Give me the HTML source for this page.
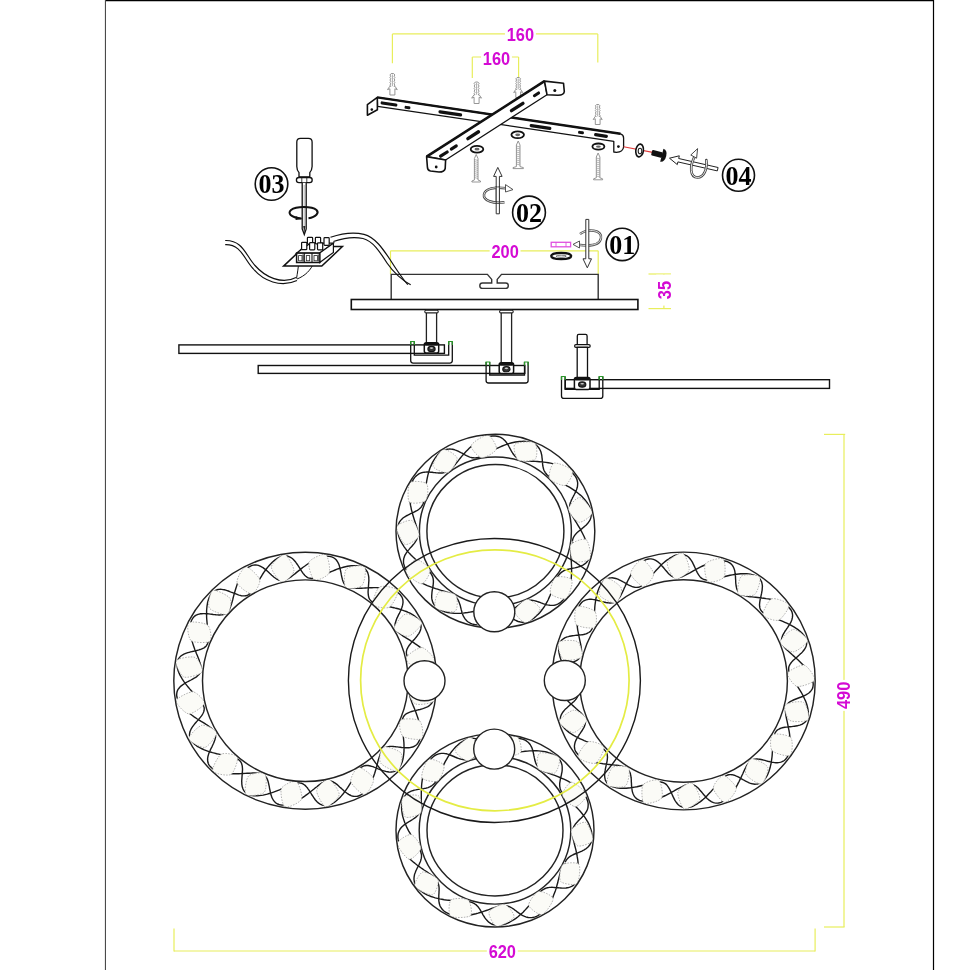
<!DOCTYPE html>
<html><head><meta charset="utf-8"><style>
html,body{margin:0;padding:0;background:#fff;}
svg{display:block;} text{-webkit-font-smoothing:antialiased;}
</style></head><body>
<svg style="will-change:transform" width="970" height="970" viewBox="0 0 970 970">
<rect x="105" y="0" width="829" height="1.25" fill="#000"/>
<rect x="104.9" y="0" width="1.1" height="970" fill="#4a4a4a"/>
<rect x="932.9" y="0" width="1.2" height="970" fill="#000"/>
<line x1="392.4" y1="33.9" x2="597.8" y2="33.9" stroke="#e8ee5c" stroke-width="1.2"/>
<line x1="392.4" y1="33.9" x2="392.4" y2="63.3" stroke="#e8ee5c" stroke-width="1.2"/>
<line x1="597.8" y1="33.9" x2="597.8" y2="62.5" stroke="#e8ee5c" stroke-width="1.2"/>
<line x1="472.3" y1="57" x2="518.6" y2="57" stroke="#e8ee5c" stroke-width="1.2"/>
<line x1="472.3" y1="57" x2="472.3" y2="78" stroke="#e8ee5c" stroke-width="1.2"/>
<line x1="518.6" y1="57" x2="518.6" y2="78" stroke="#e8ee5c" stroke-width="1.2"/>
<line x1="390.5" y1="250.8" x2="598.2" y2="250.8" stroke="#e8ee5c" stroke-width="1.2"/>
<line x1="390.5" y1="250.8" x2="390.5" y2="274" stroke="#e8ee5c" stroke-width="1.2"/>
<line x1="598.2" y1="250.8" x2="598.2" y2="274" stroke="#e8ee5c" stroke-width="1.2"/>
<line x1="663.9" y1="274" x2="663.9" y2="308.6" stroke="#e8ee5c" stroke-width="1.2"/>
<line x1="648.5" y1="274" x2="671" y2="274" stroke="#e8ee5c" stroke-width="1.2"/>
<line x1="648.5" y1="308.6" x2="671" y2="308.6" stroke="#e8ee5c" stroke-width="1.2"/>
<line x1="844" y1="434.4" x2="844" y2="927" stroke="#e8ee5c" stroke-width="1.2"/>
<line x1="824" y1="434.4" x2="845.2" y2="434.4" stroke="#e8ee5c" stroke-width="1.2"/>
<line x1="824" y1="927" x2="844.6" y2="927" stroke="#e8ee5c" stroke-width="1.2"/>
<line x1="174" y1="951" x2="815.1" y2="951" stroke="#e8ee5c" stroke-width="1.2"/>
<line x1="174" y1="928.5" x2="174" y2="951.5" stroke="#e8ee5c" stroke-width="1.2"/>
<line x1="815.1" y1="928.5" x2="815.1" y2="951.5" stroke="#e8ee5c" stroke-width="1.2"/>
<g transform="translate(520.4,34.7) scale(0.91,1)"><rect x="-17" y="-8" width="34" height="16" fill="#fff"/><text x="0" y="6.45" text-anchor="middle" font-family="Liberation Sans, sans-serif" font-weight="bold" font-size="18" fill="#d40ad4">160</text></g>
<g transform="translate(496.5,58.6) scale(0.91,1)"><rect x="-17" y="-8" width="34" height="16" fill="#fff"/><text x="0" y="6.45" text-anchor="middle" font-family="Liberation Sans, sans-serif" font-weight="bold" font-size="18" fill="#d40ad4">160</text></g>
<g transform="translate(505.1,251.3) scale(0.91,1)"><rect x="-17" y="-8" width="34" height="16" fill="#fff"/><text x="0" y="6.45" text-anchor="middle" font-family="Liberation Sans, sans-serif" font-weight="bold" font-size="18" fill="#d40ad4">200</text></g>
<g transform="translate(664.2,290.1) rotate(-90) scale(0.91,1)"><rect x="-17" y="-8" width="34" height="16" fill="#fff"/><text x="0" y="6.45" text-anchor="middle" font-family="Liberation Sans, sans-serif" font-weight="bold" font-size="18" fill="#d40ad4">35</text></g>
<g transform="translate(843.9,695.4) rotate(-90) scale(0.91,1)"><rect x="-17" y="-8" width="34" height="16" fill="#fff"/><text x="0" y="6.45" text-anchor="middle" font-family="Liberation Sans, sans-serif" font-weight="bold" font-size="18" fill="#d40ad4">490</text></g>
<g transform="translate(502.3,951.4) scale(0.91,1)"><rect x="-17" y="-8" width="34" height="16" fill="#fff"/><text x="0" y="6.45" text-anchor="middle" font-family="Liberation Sans, sans-serif" font-weight="bold" font-size="18" fill="#d40ad4">620</text></g>
<path d="M433.5,698.8 L433.2,700.0 L432.8,701.2 L432.3,702.3 L431.6,703.3 L430.8,704.3 L430.0,705.1 L429.0,705.9 L427.9,706.6 L426.7,707.2 L425.5,707.7 L424.2,708.2 L422.8,708.7 L421.4,709.1 L420.0,709.5 L418.6,709.8 L417.2,710.1 L415.8,710.5 L414.4,710.8 L413.0,711.1 L411.7,711.5 L410.5,711.9 L409.3,712.3 L408.2,712.8 L407.1,713.3 L406.2,713.8 L405.4,714.5 L404.6,715.2 L404.0,716.0 L403.4,716.9 L403.0,717.8 L402.6,718.9 L402.4,720.0 L402.2,721.2 L402.1,722.6 L402.1,724.0 L402.2,725.5 L402.3,727.1 L402.4,728.8 L402.6,730.6 L402.8,732.4 L403.1,734.3 L403.3,736.3 L403.5,738.4 L403.7,740.5 L403.9,742.6 L404.0,744.7 L404.0,746.9 L404.0,749.0 L404.0,751.1 L403.8,753.2 L403.6,755.2 L403.3,757.1 L403.0,759.0 L402.5,760.8 L402.0,762.4 L401.3,764.0 L400.7,765.4 L399.9,766.7 L399.0,767.9 L398.1,768.9 L397.1,769.8 L396.1,770.5 L395.0,771.1 L393.9,771.6 L392.7,771.9 L391.5,772.0 L390.2,772.1 L388.9,772.0 L387.6,771.8 L386.3,771.6 L384.9,771.2 L383.5,770.8 L382.2,770.4 L380.8,769.8 L379.5,769.3 L378.1,768.8 L376.8,768.2 L375.4,767.7 L374.1,767.2 L372.9,766.7 L371.6,766.3 L370.4,766.0 L369.2,765.7 L368.1,765.5 L367.0,765.5 L365.9,765.5 L364.9,765.7 L363.9,765.9 L362.9,766.3 L362.0,766.8 L361.1,767.5 L360.2,768.2 L359.3,769.1 L358.5,770.2 L357.6,771.3 L356.7,772.6 L355.8,773.9 L355.0,775.4 L354.0,776.9 L353.1,778.6 L352.1,780.2 L351.1,782.0 L350.0,783.8 L348.9,785.6 L347.8,787.4 L346.6,789.2 L345.4,790.9 L344.1,792.6 L342.8,794.3 L341.4,795.9 L340.0,797.4 L338.6,798.8 L337.2,800.1 L335.8,801.3 L334.3,802.3 L332.9,803.2 L331.5,804.0 L330.1,804.6 L328.7,805.1 L327.3,805.4 L326.0,805.5 L324.7,805.5 L323.5,805.4 L322.3,805.1 L321.2,804.6 L320.1,804.1 L319.0,803.4 L318.0,802.6 L317.0,801.7 L316.1,800.7 L315.2,799.7 L314.4,798.5 L313.6,797.4 L312.8,796.2 L312.0,795.0 L311.2,793.7 L310.5,792.5 L309.7,791.3 L309.0,790.2 L308.2,789.1 L307.5,788.0 L306.7,787.1 L305.9,786.2 L305.1,785.4 L304.2,784.7 L303.3,784.1 L302.4,783.6 L301.4,783.3 L300.4,783.1 L299.4,782.9 L298.2,782.9 L297.0,783.0 L295.8,783.3 L294.5,783.6 L293.1,784.0 L291.6,784.5 L290.1,785.1 L288.5,785.8 L286.8,786.5 L285.1,787.3 L283.3,788.1 L281.4,788.9 L279.5,789.8 L277.5,790.6 L275.5,791.4 L273.5,792.2 L271.4,792.9 L269.3,793.5 L267.3,794.1 L265.2,794.6 L263.2,795.1 L261.2,795.4 L259.3,795.6 L257.4,795.8 L255.6,795.8 L253.9,795.7 L252.3,795.5 L250.8,795.2 L249.4,794.7 L248.1,794.2 L247.0,793.6 L245.9,792.8 L245.0,792.0 L244.2,791.1 L243.6,790.1 L243.0,789.0 L242.6,787.8 L242.2,786.6 L242.0,785.3 L241.8,784.0 L241.8,782.6 L241.7,781.3 L241.8,779.8 L241.9,778.4 L242.0,777.0 L242.1,775.6 L242.2,774.1 L242.3,772.8 L242.4,771.4 L242.5,770.1 L242.5,768.8 L242.4,767.6 L242.3,766.4 L242.1,765.3 L241.8,764.2 L241.5,763.2 L241.0,762.3 L240.5,761.5 L239.8,760.7 L239.0,760.0 L238.1,759.3 L237.0,758.8 L235.9,758.2 L234.6,757.7 L233.3,757.3 L231.8,756.9 L230.2,756.5 L228.5,756.1 L226.7,755.7 L224.8,755.3 L222.9,755.0 L220.9,754.6 L218.8,754.1 L216.7,753.7 L214.6,753.1 L212.5,752.6 L210.4,752.0 L208.3,751.3 L206.3,750.6 L204.3,749.9 L202.4,749.0 L200.6,748.2 L198.9,747.2 L197.3,746.3 L195.9,745.3 L194.5,744.2 L193.4,743.1 L192.3,742.0 L191.5,740.9 L190.7,739.7 L190.2,738.5 L189.8,737.3 L189.6,736.1 L189.5,734.9 L189.6,733.7 L189.8,732.5 L190.1,731.3 L190.6,730.2 L191.1,729.0 L191.8,727.8 L192.6,726.7 L193.4,725.6 L194.3,724.4 L195.2,723.3 L196.1,722.2 L197.1,721.1 L198.0,720.1 L199.0,719.0 L199.9,717.9 L200.7,716.9 L201.5,715.9 L202.2,714.9 L202.8,713.8 L203.3,712.8 L203.7,711.8 L204.0,710.8 L204.2,709.8 L204.2,708.8 L204.2,707.8 L203.9,706.8 L203.6,705.7 L203.1,704.7 L202.5,703.6 L201.8,702.4 L200.9,701.3 L200.0,700.1 L198.9,698.9 L197.8,697.6 L196.6,696.2 L195.3,694.9 L193.9,693.4 L192.6,692.0 L191.1,690.4 L189.7,688.9 L188.3,687.2 L187.0,685.6 L185.6,683.9 L184.3,682.2 L183.1,680.4 L182.0,678.7 L181.0,676.9 L180.0,675.2 L179.2,673.4 L178.5,671.7 L177.9,670.1 L177.5,668.5 L177.2,666.9 L177.0,665.4 L177.0,664.0 L177.1,662.6 L177.4,661.4 L177.8,660.2 L178.3,659.1 L179.0,658.1 L179.8,657.1 L180.6,656.3 L181.6,655.5 L182.7,654.8 L183.9,654.2 L185.1,653.7 L186.4,653.2 L187.8,652.7 L189.2,652.3 L190.6,651.9 L192.0,651.6 L193.4,651.3 L194.8,650.9 L196.2,650.6 L197.6,650.3 L198.9,649.9 L200.1,649.5 L201.3,649.1 L202.4,648.6 L203.5,648.1 L204.4,647.6 L205.2,646.9 L206.0,646.2 L206.6,645.4 L207.2,644.5 L207.6,643.6 L208.0,642.5 L208.2,641.4 L208.4,640.2 L208.5,638.8 L208.5,637.4 L208.4,635.9 L208.3,634.3 L208.2,632.6 L208.0,630.8 L207.8,629.0 L207.5,627.1 L207.3,625.1 L207.1,623.0 L206.9,620.9 L206.7,618.8 L206.6,616.7 L206.6,614.5 L206.6,612.4 L206.6,610.3 L206.8,608.2 L207.0,606.2 L207.3,604.3 L207.6,602.4 L208.1,600.6 L208.6,599.0 L209.3,597.4 L209.9,596.0 L210.7,594.7 L211.6,593.5 L212.5,592.5 L213.5,591.6 L214.5,590.9 L215.6,590.3 L216.7,589.8 L217.9,589.5 L219.1,589.4 L220.4,589.3 L221.7,589.4 L223.0,589.6 L224.3,589.8 L225.7,590.2 L227.1,590.6 L228.4,591.0 L229.8,591.6 L231.1,592.1 L232.5,592.6 L233.8,593.2 L235.2,593.7 L236.5,594.2 L237.7,594.7 L239.0,595.1 L240.2,595.4 L241.4,595.7 L242.5,595.9 L243.6,595.9 L244.7,595.9 L245.7,595.7 L246.7,595.5 L247.7,595.1 L248.6,594.6 L249.5,593.9 L250.4,593.2 L251.3,592.3 L252.1,591.2 L253.0,590.1 L253.9,588.8 L254.8,587.5 L255.6,586.0 L256.6,584.5 L257.5,582.8 L258.5,581.2 L259.5,579.4 L260.6,577.6 L261.7,575.8 L262.8,574.0 L264.0,572.2 L265.2,570.5 L266.5,568.8 L267.8,567.1 L269.2,565.5 L270.6,564.0 L272.0,562.6 L273.4,561.3 L274.8,560.1 L276.3,559.1 L277.7,558.2 L279.1,557.4 L280.5,556.8 L281.9,556.3 L283.3,556.0 L284.6,555.9 L285.9,555.9 L287.1,556.0 L288.3,556.3 L289.4,556.8 L290.5,557.3 L291.6,558.0 L292.6,558.8 L293.6,559.7 L294.5,560.7 L295.4,561.7 L296.2,562.9 L297.0,564.0 L297.8,565.2 L298.6,566.4 L299.4,567.7 L300.1,568.9 L300.9,570.1 L301.6,571.2 L302.4,572.3 L303.1,573.4 L303.9,574.3 L304.7,575.2 L305.5,576.0 L306.4,576.7 L307.3,577.3 L308.2,577.8 L309.2,578.1 L310.2,578.3 L311.2,578.5 L312.4,578.5 L313.6,578.4 L314.8,578.1 L316.1,577.8 L317.5,577.4 L319.0,576.9 L320.5,576.3 L322.1,575.6 L323.8,574.9 L325.5,574.1 L327.3,573.3 L329.2,572.5 L331.1,571.6 L333.1,570.8 L335.1,570.0 L337.1,569.2 L339.2,568.5 L341.3,567.9 L343.3,567.3 L345.4,566.8 L347.4,566.3 L349.4,566.0 L351.3,565.8 L353.2,565.6 L355.0,565.6 L356.7,565.7 L358.3,565.9 L359.8,566.2 L361.2,566.7 L362.5,567.2 L363.6,567.8 L364.7,568.6 L365.6,569.4 L366.4,570.3 L367.0,571.3 L367.6,572.4 L368.0,573.6 L368.4,574.8 L368.6,576.1 L368.8,577.4 L368.8,578.8 L368.9,580.1 L368.8,581.6 L368.7,583.0 L368.6,584.4 L368.5,585.8 L368.4,587.3 L368.3,588.6 L368.2,590.0 L368.1,591.3 L368.1,592.6 L368.2,593.8 L368.3,595.0 L368.5,596.1 L368.8,597.2 L369.1,598.2 L369.6,599.1 L370.1,599.9 L370.8,600.7 L371.6,601.4 L372.5,602.1 L373.6,602.6 L374.7,603.2 L376.0,603.7 L377.3,604.1 L378.8,604.5 L380.4,604.9 L382.1,605.3 L383.9,605.7 L385.8,606.1 L387.7,606.4 L389.7,606.8 L391.8,607.3 L393.9,607.7 L396.0,608.3 L398.1,608.8 L400.2,609.4 L402.3,610.1 L404.3,610.8 L406.3,611.5 L408.2,612.4 L410.0,613.2 L411.7,614.2 L413.3,615.1 L414.7,616.1 L416.1,617.2 L417.2,618.3 L418.3,619.4 L419.1,620.5 L419.9,621.7 L420.4,622.9 L420.8,624.1 L421.0,625.3 L421.1,626.5 L421.0,627.7 L420.8,628.9 L420.5,630.1 L420.0,631.2 L419.5,632.4 L418.8,633.6 L418.0,634.7 L417.2,635.8 L416.3,637.0 L415.4,638.1 L414.5,639.2 L413.5,640.3 L412.6,641.3 L411.6,642.4 L410.7,643.5 L409.9,644.5 L409.1,645.5 L408.4,646.5 L407.8,647.6 L407.3,648.6 L406.9,649.6 L406.6,650.6 L406.4,651.6 L406.4,652.6 L406.4,653.6 L406.7,654.6 L407.0,655.7 L407.5,656.7 L408.1,657.8 L408.8,659.0 L409.7,660.1 L410.6,661.3 L411.7,662.5 L412.8,663.8 L414.0,665.2 L415.3,666.5 L416.7,668.0 L418.0,669.4 L419.5,671.0 L420.9,672.5 L422.3,674.2 L423.6,675.8 L425.0,677.5 L426.3,679.2 L427.5,681.0 L428.6,682.7 L429.6,684.5 L430.6,686.2 L431.4,688.0 L432.1,689.7 L432.7,691.3 L433.1,692.9 L433.4,694.5 L433.6,696.0 L433.6,697.4 L433.5,698.8 M411.4,687.1 L410.8,688.0 L410.3,688.9 L409.9,689.8 L409.6,690.8 L409.5,691.9 L409.5,693.0 L409.5,694.1 L409.7,695.4 L410.0,696.7 L410.4,698.1 L410.9,699.5 L411.4,701.1 L412.0,702.7 L412.7,704.4 L413.4,706.1 L414.2,707.9 L414.9,709.8 L415.7,711.7 L416.4,713.7 L417.1,715.7 L417.8,717.8 L418.4,719.8 L418.9,721.9 L419.4,723.9 L419.8,725.9 L420.2,727.9 L420.4,729.9 L420.5,731.8 L420.5,733.6 L420.4,735.3 L420.2,737.0 L419.9,738.5 L419.5,739.9 L419.0,741.2 L418.3,742.4 L417.6,743.5 L416.8,744.4 L415.9,745.3 L414.9,746.0 L413.8,746.5 L412.6,747.0 L411.4,747.3 L410.1,747.6 L408.8,747.7 L407.4,747.8 L406.0,747.8 L404.6,747.7 L403.2,747.6 L401.7,747.5 L400.3,747.3 L398.8,747.1 L397.4,746.9 L396.0,746.8 L394.6,746.6 L393.2,746.5 L391.9,746.4 L390.7,746.4 L389.5,746.5 L388.4,746.6 L387.3,746.9 L386.3,747.2 L385.3,747.6 L384.4,748.2 L383.6,748.8 L382.9,749.6 L382.2,750.4 L381.5,751.4 L380.9,752.5 L380.4,753.8 L379.9,755.1 L379.4,756.6 L378.9,758.1 L378.4,759.8 L377.9,761.5 L377.5,763.4 L377.0,765.3 L376.5,767.2 L375.9,769.2 L375.3,771.2 L374.7,773.2 L374.0,775.3 L373.3,777.3 L372.5,779.3 L371.6,781.2 L370.7,783.1 L369.8,784.9 L368.8,786.6 L367.8,788.2 L366.7,789.6 L365.6,791.0 L364.4,792.2 L363.2,793.3 L362.0,794.2 L360.8,794.9 L359.6,795.5 L358.4,796.0 L357.1,796.3 L355.9,796.4 L354.7,796.4 L353.5,796.3 L352.2,796.0 L351.1,795.6 L349.9,795.0 L348.7,794.4 L347.6,793.7 L346.4,792.8 L345.3,792.0 L344.2,791.1 L343.1,790.1 L342.0,789.1 L341.0,788.1 L339.9,787.2 L338.9,786.2 L337.9,785.3 L336.9,784.4 L335.8,783.6 L334.8,782.9 L333.8,782.3 L332.8,781.7 L331.8,781.3 L330.8,781.0 L329.8,780.8 L328.8,780.7 L327.7,780.8 L326.6,781.0 L325.5,781.3 L324.4,781.7 L323.3,782.3 L322.1,782.9 L320.9,783.7 L319.6,784.6 L318.2,785.6 L316.9,786.7 L315.4,787.8 L314.0,789.0 L312.4,790.3 L310.8,791.5 L309.2,792.8 L307.5,794.1 L305.7,795.4 L304.0,796.7 L302.2,797.9 L300.3,799.0 L298.5,800.1 L296.7,801.1 L294.8,802.0 L293.0,802.8 L291.2,803.5 L289.4,804.1 L287.7,804.5 L286.1,804.9 L284.5,805.0 L282.9,805.1 L281.5,805.0 L280.1,804.8 L278.9,804.5 L277.7,804.0 L276.6,803.4 L275.6,802.7 L274.7,801.8 L273.9,800.9 L273.2,799.9 L272.6,798.8 L272.0,797.6 L271.5,796.3 L271.1,795.0 L270.7,793.7 L270.4,792.3 L270.1,790.9 L269.8,789.5 L269.5,788.1 L269.3,786.7 L269.0,785.3 L268.7,784.0 L268.4,782.7 L268.1,781.5 L267.7,780.3 L267.3,779.3 L266.8,778.2 L266.2,777.3 L265.6,776.5 L264.9,775.7 L264.1,775.1 L263.2,774.5 L262.2,774.1 L261.2,773.7 L260.0,773.4 L258.7,773.2 L257.4,773.1 L255.9,773.0 L254.3,773.0 L252.7,773.0 L250.9,773.1 L249.1,773.2 L247.1,773.3 L245.1,773.4 L243.1,773.5 L241.0,773.6 L238.8,773.7 L236.7,773.8 L234.5,773.8 L232.3,773.7 L230.1,773.6 L228.0,773.4 L225.9,773.1 L223.8,772.8 L221.9,772.4 L220.0,772.0 L218.2,771.4 L216.6,770.8 L215.0,770.1 L213.6,769.3 L212.4,768.5 L211.3,767.6 L210.3,766.6 L209.5,765.6 L208.8,764.6 L208.3,763.5 L207.9,762.3 L207.7,761.2 L207.6,759.9 L207.6,758.7 L207.8,757.4 L208.0,756.2 L208.4,754.9 L208.8,753.6 L209.3,752.3 L209.9,751.0 L210.5,749.6 L211.1,748.3 L211.8,747.1 L212.4,745.8 L213.0,744.5 L213.6,743.3 L214.1,742.1 L214.5,740.9 L214.9,739.7 L215.2,738.6 L215.5,737.5 L215.6,736.4 L215.6,735.4 L215.4,734.4 L215.2,733.4 L214.8,732.4 L214.3,731.5 L213.7,730.6 L212.9,729.7 L212.0,728.8 L211.0,727.9 L209.8,727.0 L208.6,726.1 L207.2,725.1 L205.7,724.2 L204.2,723.2 L202.5,722.2 L200.8,721.2 L199.1,720.1 L197.3,719.0 L195.6,717.8 L193.8,716.6 L192.0,715.3 L190.3,714.0 L188.6,712.7 L187.0,711.3 L185.4,709.9 L184.0,708.4 L182.6,707.0 L181.4,705.5 L180.3,704.1 L179.3,702.6 L178.5,701.2 L177.8,699.8 L177.3,698.4 L176.9,697.0 L176.7,695.7 L176.7,694.4 L176.8,693.1 L177.0,692.0 L177.4,690.8 L177.9,689.7 L178.6,688.7 L179.4,687.7 L180.2,686.8 L181.2,685.9 L182.3,685.1 L183.4,684.3 L184.6,683.5 L185.9,682.7 L187.1,682.0 L188.4,681.3 L189.7,680.7 L191.0,680.0 L192.2,679.3 L193.4,678.6 L194.6,678.0 L195.7,677.3 L196.7,676.6 L197.6,675.8 L198.4,675.1 L199.2,674.3 L199.8,673.4 L200.3,672.5 L200.7,671.6 L201.0,670.6 L201.1,669.5 L201.1,668.4 L201.1,667.3 L200.9,666.0 L200.6,664.7 L200.2,663.3 L199.7,661.9 L199.2,660.3 L198.6,658.7 L197.9,657.0 L197.2,655.3 L196.4,653.5 L195.7,651.6 L194.9,649.7 L194.2,647.7 L193.5,645.7 L192.8,643.6 L192.2,641.6 L191.7,639.5 L191.2,637.5 L190.8,635.5 L190.4,633.5 L190.2,631.5 L190.1,629.6 L190.1,627.8 L190.2,626.1 L190.4,624.4 L190.7,622.9 L191.1,621.5 L191.6,620.2 L192.3,619.0 L193.0,617.9 L193.8,617.0 L194.7,616.1 L195.7,615.4 L196.8,614.9 L198.0,614.4 L199.2,614.1 L200.5,613.8 L201.8,613.7 L203.2,613.6 L204.6,613.6 L206.0,613.7 L207.4,613.8 L208.9,613.9 L210.3,614.1 L211.8,614.3 L213.2,614.5 L214.6,614.6 L216.0,614.8 L217.4,614.9 L218.7,615.0 L219.9,615.0 L221.1,614.9 L222.2,614.8 L223.3,614.5 L224.3,614.2 L225.3,613.8 L226.2,613.2 L227.0,612.6 L227.7,611.8 L228.4,611.0 L229.1,610.0 L229.7,608.9 L230.2,607.6 L230.7,606.3 L231.2,604.8 L231.7,603.3 L232.2,601.6 L232.7,599.9 L233.1,598.0 L233.6,596.1 L234.1,594.2 L234.7,592.2 L235.3,590.2 L235.9,588.2 L236.6,586.1 L237.3,584.1 L238.1,582.1 L239.0,580.2 L239.9,578.3 L240.8,576.5 L241.8,574.8 L242.8,573.2 L243.9,571.8 L245.0,570.4 L246.2,569.2 L247.4,568.1 L248.6,567.2 L249.8,566.5 L251.0,565.9 L252.2,565.4 L253.5,565.1 L254.7,565.0 L255.9,565.0 L257.1,565.1 L258.4,565.4 L259.5,565.8 L260.7,566.4 L261.9,567.0 L263.0,567.7 L264.2,568.6 L265.3,569.4 L266.4,570.3 L267.5,571.3 L268.6,572.3 L269.6,573.3 L270.7,574.2 L271.7,575.2 L272.7,576.1 L273.7,577.0 L274.8,577.8 L275.8,578.5 L276.8,579.1 L277.8,579.7 L278.8,580.1 L279.8,580.4 L280.8,580.6 L281.8,580.7 L282.9,580.6 L284.0,580.4 L285.1,580.1 L286.2,579.7 L287.3,579.1 L288.5,578.5 L289.7,577.7 L291.0,576.8 L292.4,575.8 L293.7,574.7 L295.2,573.6 L296.6,572.4 L298.2,571.1 L299.8,569.9 L301.4,568.6 L303.1,567.3 L304.9,566.0 L306.6,564.7 L308.4,563.5 L310.3,562.4 L312.1,561.3 L313.9,560.3 L315.8,559.4 L317.6,558.6 L319.4,557.9 L321.2,557.3 L322.9,556.9 L324.5,556.5 L326.1,556.4 L327.7,556.3 L329.1,556.4 L330.5,556.6 L331.7,556.9 L332.9,557.4 L334.0,558.0 L335.0,558.7 L335.9,559.6 L336.7,560.5 L337.4,561.5 L338.0,562.6 L338.6,563.8 L339.1,565.1 L339.5,566.4 L339.9,567.7 L340.2,569.1 L340.5,570.5 L340.8,571.9 L341.1,573.3 L341.3,574.7 L341.6,576.1 L341.9,577.4 L342.2,578.7 L342.5,579.9 L342.9,581.1 L343.3,582.1 L343.8,583.2 L344.4,584.1 L345.0,584.9 L345.7,585.7 L346.5,586.3 L347.4,586.9 L348.4,587.3 L349.4,587.7 L350.6,588.0 L351.9,588.2 L353.2,588.3 L354.7,588.4 L356.3,588.4 L357.9,588.4 L359.7,588.3 L361.5,588.2 L363.5,588.1 L365.5,588.0 L367.5,587.9 L369.6,587.8 L371.8,587.7 L373.9,587.6 L376.1,587.6 L378.3,587.7 L380.5,587.8 L382.6,588.0 L384.7,588.3 L386.8,588.6 L388.7,589.0 L390.6,589.4 L392.4,590.0 L394.0,590.6 L395.6,591.3 L397.0,592.1 L398.2,592.9 L399.3,593.8 L400.3,594.8 L401.1,595.8 L401.8,596.8 L402.3,597.9 L402.7,599.1 L402.9,600.2 L403.0,601.5 L403.0,602.7 L402.8,604.0 L402.6,605.2 L402.2,606.5 L401.8,607.8 L401.3,609.1 L400.7,610.4 L400.1,611.8 L399.5,613.1 L398.8,614.3 L398.2,615.6 L397.6,616.9 L397.0,618.1 L396.5,619.3 L396.1,620.5 L395.7,621.7 L395.4,622.8 L395.1,623.9 L395.0,625.0 L395.0,626.0 L395.2,627.0 L395.4,628.0 L395.8,629.0 L396.3,629.9 L396.9,630.8 L397.7,631.7 L398.6,632.6 L399.6,633.5 L400.8,634.4 L402.0,635.3 L403.4,636.3 L404.9,637.2 L406.4,638.2 L408.1,639.2 L409.8,640.2 L411.5,641.3 L413.3,642.4 L415.0,643.6 L416.8,644.8 L418.6,646.1 L420.3,647.4 L422.0,648.7 L423.6,650.1 L425.2,651.5 L426.6,653.0 L428.0,654.4 L429.2,655.9 L430.3,657.3 L431.3,658.8 L432.1,660.2 L432.8,661.6 L433.3,663.0 L433.7,664.4 L433.9,665.7 L433.9,667.0 L433.8,668.3 L433.6,669.4 L433.2,670.6 L432.7,671.7 L432.0,672.7 L431.2,673.7 L430.4,674.6 L429.4,675.5 L428.3,676.3 L427.2,677.1 L426.0,677.9 L424.7,678.7 L423.5,679.4 L422.2,680.1 L420.9,680.7 L419.6,681.4 L418.4,682.1 L417.2,682.8 L416.0,683.4 L414.9,684.1 L413.9,684.8 L413.0,685.6 L412.2,686.3 L411.4,687.1" fill="none" stroke="#1a1a1a" stroke-width="1.4"/>
<g fill="#fbfbf7" stroke="#a0a0a0" stroke-width="0.8" stroke-dasharray="1.5 1.3"><path d="M408.4,689.5 C407.0,692.1 412.2,702.6 415.6,704.0 C419.0,705.5 433.0,703.2 434.5,700.6 C435.9,698.1 430.1,685.8 426.7,684.4 C423.3,682.9 409.9,687.0 408.4,689.5Z"/><path d="M400.6,720.2 C398.4,722.2 400.1,733.8 402.8,736.2 C405.6,738.6 419.7,740.6 421.9,738.6 C424.0,736.7 422.4,723.2 419.6,720.8 C416.8,718.4 402.8,718.2 400.6,720.2Z"/><path d="M383.4,747.1 C380.7,748.3 378.6,759.8 380.5,762.9 C382.4,766.0 395.1,772.2 397.8,771.0 C400.5,769.8 403.2,756.5 401.3,753.4 C399.4,750.3 386.1,745.8 383.4,747.1Z"/><path d="M358.6,767.4 C355.6,767.8 350.0,778.1 350.8,781.6 C351.6,785.1 361.8,794.9 364.7,794.5 C367.7,794.2 374.4,782.3 373.6,778.8 C372.8,775.3 361.6,767.0 358.6,767.4Z"/><path d="M328.6,779.2 C325.6,778.7 317.0,786.8 316.7,790.4 C316.3,794.0 322.9,806.3 325.8,806.9 C328.8,807.4 338.9,798.2 339.2,794.6 C339.6,791.0 331.5,779.8 328.6,779.2Z"/><path d="M296.3,781.5 C293.6,780.0 282.9,785.1 281.4,788.5 C280.0,791.8 282.3,805.5 284.9,806.9 C287.5,808.3 300.1,802.6 301.5,799.3 C303.0,796.0 298.9,782.9 296.3,781.5Z"/><path d="M264.8,773.8 C262.8,771.7 251.0,773.3 248.5,776.0 C246.1,778.7 243.9,792.4 246.0,794.6 C248.0,796.7 261.8,795.1 264.2,792.4 C266.7,789.7 266.9,775.9 264.8,773.8Z"/><path d="M237.4,757.0 C236.1,754.4 224.3,752.3 221.2,754.2 C218.0,756.0 211.6,768.5 212.9,771.1 C214.1,773.7 227.7,776.3 230.9,774.5 C234.1,772.7 238.6,759.7 237.4,757.0Z"/><path d="M216.6,732.8 C216.2,729.9 205.7,724.4 202.0,725.2 C198.4,726.0 188.4,735.9 188.8,738.8 C189.2,741.7 201.3,748.2 204.9,747.4 C208.5,746.7 216.9,735.7 216.6,732.8Z"/><path d="M204.4,703.4 C205.0,700.6 196.7,692.2 193.0,691.8 C189.4,691.5 176.7,697.9 176.1,700.8 C175.6,703.6 185.0,713.5 188.7,713.9 C192.4,714.2 203.9,706.3 204.4,703.4Z"/><path d="M202.2,671.9 C203.6,669.3 198.4,658.8 195.0,657.4 C191.6,655.9 177.6,658.2 176.1,660.8 C174.7,663.3 180.5,675.6 183.9,677.0 C187.3,678.5 200.7,674.4 202.2,671.9Z"/><path d="M210.0,641.2 C212.2,639.2 210.5,627.6 207.8,625.2 C205.0,622.8 190.9,620.8 188.7,622.8 C186.6,624.7 188.2,638.2 191.0,640.6 C193.8,643.0 207.8,643.2 210.0,641.2Z"/><path d="M227.2,614.3 C229.9,613.1 232.0,601.6 230.1,598.5 C228.2,595.4 215.5,589.2 212.8,590.4 C210.1,591.6 207.4,604.9 209.3,608.0 C211.2,611.1 224.5,615.6 227.2,614.3Z"/><path d="M252.0,594.0 C255.0,593.6 260.6,583.3 259.8,579.8 C259.0,576.3 248.8,566.5 245.9,566.9 C242.9,567.2 236.2,579.1 237.0,582.6 C237.8,586.1 249.0,594.4 252.0,594.0Z"/><path d="M282.0,582.2 C285.0,582.7 293.6,574.6 293.9,571.0 C294.3,567.4 287.7,555.1 284.8,554.5 C281.8,554.0 271.7,563.2 271.4,566.8 C271.0,570.4 279.1,581.6 282.0,582.2Z"/><path d="M314.3,579.9 C317.0,581.4 327.7,576.3 329.2,572.9 C330.6,569.6 328.3,555.9 325.7,554.5 C323.1,553.1 310.5,558.8 309.1,562.1 C307.6,565.4 311.7,578.5 314.3,579.9Z"/><path d="M345.8,587.6 C347.8,589.7 359.6,588.1 362.1,585.4 C364.5,582.7 366.7,569.0 364.6,566.8 C362.6,564.7 348.8,566.3 346.4,569.0 C343.9,571.7 343.7,585.5 345.8,587.6Z"/><path d="M373.2,604.4 C374.5,607.0 386.3,609.1 389.4,607.2 C392.6,605.4 399.0,592.9 397.7,590.3 C396.5,587.7 382.9,585.1 379.7,586.9 C376.5,588.7 372.0,601.7 373.2,604.4Z"/><path d="M394.0,628.6 C394.4,631.5 404.9,637.0 408.6,636.2 C412.2,635.4 422.2,625.5 421.8,622.6 C421.4,619.7 409.3,613.2 405.7,614.0 C402.1,614.7 393.7,625.7 394.0,628.6Z"/><path d="M406.2,658.0 C405.6,660.8 413.9,669.2 417.6,669.6 C421.2,669.9 433.9,663.5 434.5,660.6 C435.0,657.8 425.6,647.9 421.9,647.5 C418.2,647.2 406.7,655.1 406.2,658.0Z"/></g>
<ellipse cx="305.3" cy="680.7" rx="131.5" ry="128.5" fill="none" stroke="#232323" stroke-width="1.45" />
<ellipse cx="305.3" cy="680.7" rx="102.8" ry="100.85" fill="none" stroke="#232323" stroke-width="1.45" />
<path d="M807.7,717.6 L807.3,718.9 L806.7,720.0 L806.0,721.0 L805.2,721.9 L804.3,722.7 L803.3,723.4 L802.3,724.1 L801.1,724.6 L799.9,725.1 L798.6,725.4 L797.3,725.8 L795.9,726.0 L794.5,726.2 L793.1,726.4 L791.7,726.6 L790.2,726.7 L788.8,726.8 L787.4,727.0 L786.1,727.1 L784.8,727.3 L783.5,727.5 L782.3,727.8 L781.2,728.1 L780.1,728.5 L779.1,729.0 L778.2,729.5 L777.3,730.1 L776.6,730.8 L775.9,731.6 L775.3,732.5 L774.8,733.5 L774.4,734.5 L774.0,735.7 L773.7,737.0 L773.4,738.4 L773.2,740.0 L773.1,741.6 L772.9,743.2 L772.8,745.0 L772.7,746.9 L772.6,748.8 L772.5,750.8 L772.3,752.8 L772.2,754.9 L772.0,757.0 L771.7,759.1 L771.4,761.2 L771.1,763.3 L770.6,765.3 L770.2,767.3 L769.6,769.3 L769.0,771.2 L768.3,772.9 L767.6,774.6 L766.8,776.2 L765.9,777.6 L765.0,778.9 L764.0,780.1 L763.0,781.1 L761.9,782.0 L760.8,782.7 L759.7,783.3 L758.5,783.7 L757.4,784.0 L756.1,784.1 L754.9,784.2 L753.7,784.0 L752.4,783.8 L751.2,783.5 L749.9,783.1 L748.6,782.6 L747.4,782.0 L746.1,781.3 L744.8,780.7 L743.6,780.0 L742.4,779.3 L741.1,778.6 L739.9,777.9 L738.7,777.2 L737.6,776.6 L736.4,776.1 L735.3,775.6 L734.2,775.2 L733.1,774.9 L732.0,774.7 L730.9,774.6 L729.9,774.6 L728.8,774.7 L727.8,775.0 L726.8,775.4 L725.8,775.9 L724.8,776.5 L723.8,777.3 L722.7,778.1 L721.7,779.1 L720.6,780.2 L719.5,781.4 L718.4,782.7 L717.2,784.1 L716.0,785.5 L714.8,787.0 L713.5,788.6 L712.2,790.1 L710.8,791.7 L709.3,793.3 L707.9,794.8 L706.4,796.4 L704.8,797.9 L703.3,799.3 L701.7,800.6 L700.1,801.9 L698.4,803.0 L696.8,804.1 L695.2,805.0 L693.6,805.8 L692.1,806.5 L690.5,807.0 L689.0,807.4 L687.6,807.6 L686.2,807.7 L684.9,807.7 L683.6,807.5 L682.4,807.2 L681.3,806.7 L680.2,806.2 L679.2,805.5 L678.3,804.7 L677.4,803.8 L676.6,802.8 L675.8,801.7 L675.1,800.6 L674.4,799.4 L673.8,798.1 L673.2,796.9 L672.6,795.6 L672.0,794.3 L671.4,793.0 L670.9,791.8 L670.3,790.6 L669.7,789.4 L669.1,788.3 L668.5,787.3 L667.8,786.3 L667.1,785.4 L666.4,784.6 L665.6,783.9 L664.7,783.3 L663.8,782.9 L662.8,782.5 L661.8,782.2 L660.6,782.0 L659.4,782.0 L658.2,782.0 L656.8,782.1 L655.4,782.3 L653.8,782.6 L652.2,782.9 L650.5,783.3 L648.8,783.8 L646.9,784.2 L645.0,784.7 L643.1,785.2 L641.0,785.7 L639.0,786.2 L636.9,786.7 L634.7,787.1 L632.6,787.5 L630.5,787.8 L628.3,788.0 L626.2,788.2 L624.2,788.3 L622.2,788.3 L620.2,788.2 L618.4,788.1 L616.6,787.8 L614.9,787.4 L613.4,787.0 L611.9,786.4 L610.6,785.8 L609.4,785.1 L608.4,784.3 L607.5,783.4 L606.7,782.5 L606.1,781.5 L605.5,780.4 L605.1,779.2 L604.9,778.0 L604.7,776.8 L604.6,775.5 L604.7,774.2 L604.8,772.9 L604.9,771.5 L605.2,770.2 L605.4,768.8 L605.7,767.4 L606.0,766.1 L606.3,764.7 L606.6,763.4 L606.9,762.1 L607.1,760.8 L607.3,759.5 L607.4,758.3 L607.5,757.2 L607.4,756.1 L607.3,755.0 L607.1,754.0 L606.7,753.0 L606.3,752.1 L605.7,751.2 L605.0,750.4 L604.2,749.6 L603.3,748.9 L602.2,748.2 L601.1,747.5 L599.8,746.8 L598.4,746.2 L596.9,745.5 L595.3,744.9 L593.6,744.2 L591.8,743.5 L590.0,742.8 L588.1,742.1 L586.1,741.4 L584.2,740.6 L582.2,739.7 L580.2,738.8 L578.3,737.9 L576.3,736.9 L574.5,735.9 L572.7,734.8 L570.9,733.7 L569.3,732.6 L567.8,731.4 L566.4,730.2 L565.1,729.0 L564.0,727.7 L563.0,726.5 L562.2,725.2 L561.5,723.9 L561.0,722.7 L560.6,721.4 L560.4,720.2 L560.3,719.0 L560.4,717.8 L560.6,716.6 L561.0,715.5 L561.5,714.4 L562.1,713.3 L562.8,712.2 L563.6,711.2 L564.5,710.1 L565.5,709.1 L566.5,708.2 L567.5,707.2 L568.6,706.3 L569.6,705.3 L570.7,704.4 L571.7,703.5 L572.7,702.6 L573.7,701.7 L574.6,700.8 L575.4,699.9 L576.1,699.0 L576.8,698.0 L577.3,697.1 L577.8,696.1 L578.1,695.2 L578.3,694.2 L578.3,693.1 L578.3,692.1 L578.1,691.0 L577.8,689.9 L577.4,688.7 L576.8,687.4 L576.2,686.2 L575.4,684.8 L574.6,683.4 L573.7,682.0 L572.7,680.5 L571.7,678.9 L570.6,677.3 L569.5,675.6 L568.4,673.9 L567.3,672.1 L566.2,670.3 L565.1,668.5 L564.1,666.6 L563.2,664.7 L562.3,662.8 L561.4,660.9 L560.7,659.0 L560.1,657.2 L559.6,655.3 L559.2,653.6 L558.9,651.8 L558.7,650.2 L558.7,648.6 L558.7,647.1 L559.0,645.7 L559.3,644.4 L559.7,643.1 L560.3,642.0 L561.0,641.0 L561.8,640.1 L562.7,639.3 L563.7,638.6 L564.7,637.9 L565.9,637.4 L567.1,636.9 L568.4,636.6 L569.7,636.2 L571.1,636.0 L572.5,635.8 L573.9,635.6 L575.3,635.4 L576.8,635.3 L578.2,635.2 L579.6,635.0 L580.9,634.9 L582.2,634.7 L583.5,634.5 L584.7,634.2 L585.8,633.9 L586.9,633.5 L587.9,633.0 L588.8,632.5 L589.7,631.9 L590.4,631.2 L591.1,630.4 L591.7,629.5 L592.2,628.5 L592.6,627.5 L593.0,626.3 L593.3,625.0 L593.6,623.6 L593.8,622.0 L593.9,620.4 L594.1,618.8 L594.2,617.0 L594.3,615.1 L594.4,613.2 L594.5,611.2 L594.7,609.2 L594.8,607.1 L595.0,605.0 L595.3,602.9 L595.6,600.8 L595.9,598.7 L596.4,596.7 L596.8,594.7 L597.4,592.7 L598.0,590.8 L598.7,589.1 L599.4,587.4 L600.2,585.8 L601.1,584.4 L602.0,583.1 L603.0,581.9 L604.0,580.9 L605.1,580.0 L606.2,579.3 L607.3,578.7 L608.5,578.3 L609.6,578.0 L610.9,577.9 L612.1,577.8 L613.3,578.0 L614.6,578.2 L615.8,578.5 L617.1,578.9 L618.4,579.4 L619.6,580.0 L620.9,580.7 L622.2,581.3 L623.4,582.0 L624.6,582.7 L625.9,583.4 L627.1,584.1 L628.3,584.8 L629.4,585.4 L630.6,585.9 L631.7,586.4 L632.8,586.8 L633.9,587.1 L635.0,587.3 L636.1,587.4 L637.1,587.4 L638.2,587.3 L639.2,587.0 L640.2,586.6 L641.2,586.1 L642.2,585.5 L643.2,584.7 L644.3,583.9 L645.3,582.9 L646.4,581.8 L647.5,580.6 L648.6,579.3 L649.8,577.9 L651.0,576.5 L652.2,575.0 L653.5,573.4 L654.8,571.9 L656.2,570.3 L657.7,568.7 L659.1,567.2 L660.6,565.6 L662.2,564.1 L663.7,562.7 L665.3,561.4 L666.9,560.1 L668.6,559.0 L670.2,557.9 L671.8,557.0 L673.4,556.2 L674.9,555.5 L676.5,555.0 L678.0,554.6 L679.4,554.4 L680.8,554.3 L682.1,554.3 L683.4,554.5 L684.6,554.8 L685.7,555.3 L686.8,555.8 L687.8,556.5 L688.7,557.3 L689.6,558.2 L690.4,559.2 L691.2,560.3 L691.9,561.4 L692.6,562.6 L693.2,563.9 L693.8,565.1 L694.4,566.4 L695.0,567.7 L695.6,569.0 L696.1,570.2 L696.7,571.4 L697.3,572.6 L697.9,573.7 L698.5,574.7 L699.2,575.7 L699.9,576.6 L700.6,577.4 L701.4,578.1 L702.3,578.7 L703.2,579.1 L704.2,579.5 L705.2,579.8 L706.4,580.0 L707.6,580.0 L708.8,580.0 L710.2,579.9 L711.6,579.7 L713.2,579.4 L714.8,579.1 L716.5,578.7 L718.2,578.2 L720.1,577.8 L722.0,577.3 L723.9,576.8 L726.0,576.3 L728.0,575.8 L730.1,575.3 L732.3,574.9 L734.4,574.5 L736.5,574.2 L738.7,574.0 L740.8,573.8 L742.8,573.7 L744.8,573.7 L746.8,573.8 L748.6,573.9 L750.4,574.2 L752.1,574.6 L753.6,575.0 L755.1,575.6 L756.4,576.2 L757.6,576.9 L758.6,577.7 L759.5,578.6 L760.3,579.5 L760.9,580.5 L761.5,581.6 L761.9,582.8 L762.1,584.0 L762.3,585.2 L762.4,586.5 L762.3,587.8 L762.2,589.1 L762.1,590.5 L761.8,591.8 L761.6,593.2 L761.3,594.6 L761.0,595.9 L760.7,597.3 L760.4,598.6 L760.1,599.9 L759.9,601.2 L759.7,602.5 L759.6,603.7 L759.5,604.8 L759.6,605.9 L759.7,607.0 L759.9,608.0 L760.3,609.0 L760.7,609.9 L761.3,610.8 L762.0,611.6 L762.8,612.4 L763.7,613.1 L764.8,613.8 L765.9,614.5 L767.2,615.2 L768.6,615.8 L770.1,616.5 L771.7,617.1 L773.4,617.8 L775.2,618.5 L777.0,619.2 L778.9,619.9 L780.9,620.6 L782.8,621.4 L784.8,622.3 L786.8,623.2 L788.7,624.1 L790.7,625.1 L792.5,626.1 L794.3,627.2 L796.1,628.3 L797.7,629.4 L799.2,630.6 L800.6,631.8 L801.9,633.0 L803.0,634.3 L804.0,635.5 L804.8,636.8 L805.5,638.1 L806.0,639.3 L806.4,640.6 L806.6,641.8 L806.7,643.0 L806.6,644.2 L806.4,645.4 L806.0,646.5 L805.5,647.6 L804.9,648.7 L804.2,649.8 L803.4,650.8 L802.5,651.9 L801.5,652.9 L800.5,653.8 L799.5,654.8 L798.4,655.7 L797.4,656.7 L796.3,657.6 L795.3,658.5 L794.3,659.4 L793.3,660.3 L792.4,661.2 L791.6,662.1 L790.9,663.0 L790.2,664.0 L789.7,664.9 L789.2,665.9 L788.9,666.8 L788.7,667.8 L788.7,668.9 L788.7,669.9 L788.9,671.0 L789.2,672.1 L789.6,673.3 L790.2,674.6 L790.8,675.8 L791.6,677.2 L792.4,678.6 L793.3,680.0 L794.3,681.5 L795.3,683.1 L796.4,684.7 L797.5,686.4 L798.6,688.1 L799.7,689.9 L800.8,691.7 L801.9,693.5 L802.9,695.4 L803.8,697.3 L804.7,699.2 L805.6,701.1 L806.3,703.0 L806.9,704.8 L807.4,706.7 L807.8,708.4 L808.1,710.2 L808.3,711.8 L808.3,713.4 L808.3,714.9 L808.0,716.3 L807.7,717.6 M788.4,703.1 L787.7,703.8 L787.1,704.6 L786.5,705.5 L786.1,706.5 L785.8,707.5 L785.6,708.6 L785.5,709.8 L785.5,711.1 L785.5,712.4 L785.7,713.8 L785.9,715.4 L786.2,717.0 L786.5,718.6 L786.9,720.4 L787.3,722.2 L787.7,724.1 L788.1,726.1 L788.5,728.1 L788.9,730.2 L789.3,732.2 L789.6,734.3 L789.8,736.4 L790.0,738.5 L790.2,740.6 L790.2,742.7 L790.2,744.7 L790.1,746.6 L789.9,748.5 L789.6,750.3 L789.2,752.0 L788.8,753.6 L788.2,755.0 L787.6,756.4 L786.8,757.6 L786.0,758.7 L785.1,759.7 L784.2,760.5 L783.2,761.2 L782.1,761.7 L780.9,762.1 L779.7,762.4 L778.5,762.6 L777.2,762.7 L775.9,762.7 L774.6,762.6 L773.2,762.4 L771.8,762.2 L770.4,761.9 L769.1,761.5 L767.7,761.2 L766.3,760.8 L764.9,760.4 L763.6,760.1 L762.3,759.8 L761.0,759.5 L759.7,759.3 L758.5,759.1 L757.3,759.0 L756.2,759.0 L755.1,759.1 L754.1,759.3 L753.1,759.6 L752.1,760.0 L751.2,760.5 L750.3,761.2 L749.5,762.0 L748.7,762.9 L747.9,763.9 L747.2,765.0 L746.4,766.2 L745.7,767.6 L744.9,769.1 L744.2,770.6 L743.4,772.3 L742.7,774.0 L741.8,775.7 L741.0,777.6 L740.1,779.4 L739.2,781.3 L738.2,783.2 L737.2,785.1 L736.2,786.9 L735.1,788.7 L733.9,790.5 L732.7,792.2 L731.5,793.8 L730.2,795.3 L729.0,796.7 L727.7,798.0 L726.3,799.1 L725.0,800.1 L723.7,801.0 L722.3,801.7 L721.0,802.3 L719.7,802.7 L718.4,803.0 L717.1,803.1 L715.9,803.1 L714.7,802.9 L713.5,802.6 L712.4,802.2 L711.3,801.6 L710.2,800.9 L709.1,800.2 L708.1,799.3 L707.1,798.4 L706.1,797.4 L705.2,796.3 L704.3,795.3 L703.4,794.2 L702.5,793.1 L701.6,792.0 L700.7,791.0 L699.8,790.0 L699.0,789.0 L698.1,788.1 L697.2,787.3 L696.3,786.5 L695.4,785.9 L694.4,785.3 L693.5,784.9 L692.5,784.5 L691.5,784.3 L690.4,784.2 L689.3,784.3 L688.2,784.4 L687.0,784.7 L685.8,785.0 L684.5,785.5 L683.1,786.1 L681.7,786.8 L680.2,787.5 L678.7,788.4 L677.1,789.2 L675.4,790.2 L673.7,791.2 L671.9,792.1 L670.1,793.1 L668.2,794.1 L666.3,795.1 L664.4,796.0 L662.4,796.9 L660.4,797.8 L658.4,798.5 L656.4,799.2 L654.5,799.8 L652.6,800.3 L650.7,800.7 L648.8,801.0 L647.1,801.2 L645.4,801.2 L643.8,801.2 L642.3,801.0 L640.9,800.7 L639.5,800.3 L638.3,799.7 L637.2,799.1 L636.3,798.4 L635.4,797.5 L634.6,796.6 L634.0,795.6 L633.4,794.5 L632.9,793.3 L632.5,792.1 L632.2,790.8 L632.0,789.5 L631.8,788.2 L631.7,786.8 L631.5,785.4 L631.5,784.0 L631.4,782.6 L631.3,781.2 L631.3,779.9 L631.2,778.5 L631.0,777.2 L630.9,776.0 L630.6,774.8 L630.4,773.7 L630.0,772.6 L629.6,771.7 L629.1,770.8 L628.5,769.9 L627.8,769.2 L627.0,768.5 L626.1,767.9 L625.1,767.3 L624.0,766.9 L622.7,766.5 L621.4,766.1 L620.0,765.8 L618.4,765.5 L616.8,765.3 L615.0,765.1 L613.2,764.9 L611.3,764.7 L609.3,764.5 L607.3,764.3 L605.2,764.0 L603.1,763.8 L600.9,763.4 L598.8,763.1 L596.7,762.7 L594.6,762.2 L592.5,761.7 L590.5,761.1 L588.5,760.5 L586.7,759.8 L584.9,759.0 L583.3,758.2 L581.7,757.3 L580.3,756.4 L579.1,755.4 L578.0,754.4 L577.0,753.3 L576.2,752.3 L575.5,751.1 L575.0,750.0 L574.7,748.8 L574.5,747.7 L574.4,746.5 L574.5,745.3 L574.7,744.1 L575.0,742.8 L575.4,741.6 L575.9,740.4 L576.5,739.2 L577.2,738.0 L577.9,736.8 L578.7,735.6 L579.4,734.4 L580.2,733.3 L581.0,732.1 L581.8,731.0 L582.5,729.8 L583.2,728.7 L583.8,727.6 L584.3,726.6 L584.7,725.5 L585.1,724.4 L585.3,723.4 L585.5,722.4 L585.5,721.3 L585.4,720.3 L585.1,719.3 L584.8,718.3 L584.3,717.3 L583.7,716.3 L582.9,715.2 L582.1,714.2 L581.1,713.1 L580.0,712.0 L578.8,710.9 L577.5,709.7 L576.1,708.5 L574.7,707.2 L573.2,705.9 L571.7,704.6 L570.2,703.2 L568.6,701.8 L567.1,700.3 L565.6,698.8 L564.1,697.2 L562.7,695.6 L561.3,694.0 L560.1,692.4 L558.9,690.8 L557.8,689.1 L556.8,687.5 L556.0,685.9 L555.3,684.3 L554.7,682.7 L554.3,681.2 L554.0,679.8 L553.8,678.4 L553.8,677.0 L554.0,675.7 L554.2,674.5 L554.6,673.4 L555.2,672.3 L555.9,671.3 L556.6,670.4 L557.5,669.5 L558.5,668.7 L559.6,668.0 L560.7,667.3 L562.0,666.7 L563.2,666.1 L564.5,665.5 L565.8,665.0 L567.2,664.5 L568.5,664.0 L569.8,663.5 L571.1,663.0 L572.4,662.5 L573.6,662.0 L574.8,661.4 L575.8,660.9 L576.8,660.3 L577.8,659.6 L578.6,658.9 L579.3,658.2 L579.9,657.4 L580.5,656.5 L580.9,655.5 L581.2,654.5 L581.4,653.4 L581.5,652.2 L581.5,650.9 L581.5,649.6 L581.3,648.2 L581.1,646.6 L580.8,645.0 L580.5,643.4 L580.1,641.6 L579.7,639.8 L579.3,637.9 L578.9,635.9 L578.5,633.9 L578.1,631.8 L577.7,629.8 L577.4,627.7 L577.2,625.6 L577.0,623.5 L576.8,621.4 L576.8,619.3 L576.8,617.3 L576.9,615.4 L577.1,613.5 L577.4,611.7 L577.8,610.0 L578.2,608.4 L578.8,607.0 L579.4,605.6 L580.2,604.4 L581.0,603.3 L581.9,602.3 L582.8,601.5 L583.8,600.8 L584.9,600.3 L586.1,599.9 L587.3,599.6 L588.5,599.4 L589.8,599.3 L591.1,599.3 L592.4,599.4 L593.8,599.6 L595.2,599.8 L596.6,600.1 L597.9,600.5 L599.3,600.8 L600.7,601.2 L602.1,601.6 L603.4,601.9 L604.7,602.2 L606.0,602.5 L607.3,602.7 L608.5,602.9 L609.7,603.0 L610.8,603.0 L611.9,602.9 L612.9,602.7 L613.9,602.4 L614.9,602.0 L615.8,601.5 L616.7,600.8 L617.5,600.0 L618.3,599.1 L619.1,598.1 L619.8,597.0 L620.6,595.8 L621.3,594.4 L622.1,592.9 L622.8,591.4 L623.6,589.7 L624.3,588.0 L625.2,586.3 L626.0,584.4 L626.9,582.6 L627.8,580.7 L628.8,578.8 L629.8,576.9 L630.8,575.1 L631.9,573.3 L633.1,571.5 L634.3,569.8 L635.5,568.2 L636.8,566.7 L638.0,565.3 L639.3,564.0 L640.7,562.9 L642.0,561.9 L643.3,561.0 L644.7,560.3 L646.0,559.7 L647.3,559.3 L648.6,559.0 L649.9,558.9 L651.1,558.9 L652.3,559.1 L653.5,559.4 L654.6,559.8 L655.7,560.4 L656.8,561.1 L657.9,561.8 L658.9,562.7 L659.9,563.6 L660.9,564.6 L661.8,565.7 L662.7,566.7 L663.6,567.8 L664.5,568.9 L665.4,570.0 L666.3,571.0 L667.2,572.0 L668.0,573.0 L668.9,573.9 L669.8,574.7 L670.7,575.5 L671.6,576.1 L672.6,576.7 L673.5,577.1 L674.5,577.5 L675.5,577.7 L676.6,577.8 L677.7,577.7 L678.8,577.6 L680.0,577.3 L681.2,577.0 L682.5,576.5 L683.9,575.9 L685.3,575.2 L686.8,574.5 L688.3,573.6 L689.9,572.8 L691.6,571.8 L693.3,570.8 L695.1,569.9 L696.9,568.9 L698.8,567.9 L700.7,566.9 L702.6,566.0 L704.6,565.1 L706.6,564.2 L708.6,563.5 L710.6,562.8 L712.5,562.2 L714.4,561.7 L716.3,561.3 L718.2,561.0 L719.9,560.8 L721.6,560.8 L723.2,560.8 L724.7,561.0 L726.1,561.3 L727.5,561.7 L728.7,562.3 L729.8,562.9 L730.7,563.6 L731.6,564.5 L732.4,565.4 L733.0,566.4 L733.6,567.5 L734.1,568.7 L734.5,569.9 L734.8,571.2 L735.0,572.5 L735.2,573.8 L735.3,575.2 L735.5,576.6 L735.5,578.0 L735.6,579.4 L735.7,580.8 L735.7,582.1 L735.8,583.5 L736.0,584.8 L736.1,586.0 L736.4,587.2 L736.6,588.3 L737.0,589.4 L737.4,590.3 L737.9,591.2 L738.5,592.1 L739.2,592.8 L740.0,593.5 L740.9,594.1 L741.9,594.7 L743.0,595.1 L744.3,595.5 L745.6,595.9 L747.0,596.2 L748.6,596.5 L750.2,596.7 L752.0,596.9 L753.8,597.1 L755.7,597.3 L757.7,597.5 L759.7,597.7 L761.8,598.0 L763.9,598.2 L766.1,598.6 L768.2,598.9 L770.3,599.3 L772.4,599.8 L774.5,600.3 L776.5,600.9 L778.5,601.5 L780.3,602.2 L782.1,603.0 L783.7,603.8 L785.3,604.7 L786.7,605.6 L787.9,606.6 L789.0,607.6 L790.0,608.7 L790.8,609.7 L791.5,610.9 L792.0,612.0 L792.3,613.2 L792.5,614.3 L792.6,615.5 L792.5,616.7 L792.3,617.9 L792.0,619.2 L791.6,620.4 L791.1,621.6 L790.5,622.8 L789.8,624.0 L789.1,625.2 L788.3,626.4 L787.6,627.6 L786.8,628.7 L786.0,629.9 L785.2,631.0 L784.5,632.2 L783.8,633.3 L783.2,634.4 L782.7,635.4 L782.3,636.5 L781.9,637.6 L781.7,638.6 L781.5,639.6 L781.5,640.7 L781.6,641.7 L781.9,642.7 L782.2,643.7 L782.7,644.7 L783.3,645.7 L784.1,646.8 L784.9,647.8 L785.9,648.9 L787.0,650.0 L788.2,651.1 L789.5,652.3 L790.9,653.5 L792.3,654.8 L793.8,656.1 L795.3,657.4 L796.8,658.8 L798.4,660.2 L799.9,661.7 L801.4,663.2 L802.9,664.8 L804.3,666.4 L805.7,668.0 L806.9,669.6 L808.1,671.2 L809.2,672.9 L810.2,674.5 L811.0,676.1 L811.7,677.7 L812.3,679.3 L812.7,680.8 L813.0,682.2 L813.2,683.6 L813.2,685.0 L813.0,686.3 L812.8,687.5 L812.4,688.6 L811.8,689.7 L811.1,690.7 L810.4,691.6 L809.5,692.5 L808.5,693.3 L807.4,694.0 L806.3,694.7 L805.0,695.3 L803.8,695.9 L802.5,696.5 L801.2,697.0 L799.8,697.5 L798.5,698.0 L797.2,698.5 L795.9,699.0 L794.6,699.5 L793.4,700.0 L792.2,700.6 L791.2,701.1 L790.2,701.7 L789.2,702.4 L788.4,703.1" fill="none" stroke="#1a1a1a" stroke-width="1.4"/>
<g fill="#fbfbf7" stroke="#a0a0a0" stroke-width="0.8" stroke-dasharray="1.5 1.3"><path d="M785.2,705.0 C783.4,707.4 786.7,718.5 789.7,720.4 C792.7,722.3 806.6,722.0 808.4,719.6 C810.2,717.3 806.5,704.3 803.5,702.4 C800.5,700.5 786.9,702.7 785.2,705.0Z"/><path d="M772.6,734.6 C770.1,736.2 769.8,747.9 772.1,750.6 C774.3,753.3 787.6,757.1 790.1,755.4 C792.5,753.8 793.1,740.3 790.8,737.6 C788.6,734.9 775.0,732.9 772.6,734.6Z"/><path d="M751.3,758.8 C748.4,759.7 744.4,770.6 745.7,773.9 C747.0,777.2 758.5,784.8 761.3,784.0 C764.2,783.1 769.0,770.5 767.7,767.2 C766.4,764.0 754.1,758.0 751.3,758.8Z"/><path d="M723.4,775.5 C720.4,775.4 713.1,784.6 713.3,788.1 C713.5,791.6 721.9,802.4 724.9,802.4 C727.9,802.5 736.5,791.9 736.3,788.4 C736.1,784.9 726.3,775.5 723.4,775.5Z"/><path d="M691.5,782.9 C688.7,781.9 678.9,788.5 677.9,791.9 C677.0,795.3 681.7,808.0 684.5,809.0 C687.3,809.9 698.8,802.5 699.7,799.1 C700.6,795.7 694.3,783.8 691.5,782.9Z"/><path d="M658.9,780.3 C656.5,778.6 645.1,781.8 643.1,784.8 C641.2,787.7 641.6,801.3 644.0,803.0 C646.4,804.8 659.6,801.2 661.6,798.2 C663.5,795.3 661.3,782.1 658.9,780.3Z"/><path d="M628.7,768.0 C627.0,765.6 615.1,765.3 612.3,767.5 C609.5,769.7 605.6,782.7 607.3,785.1 C609.0,787.5 622.8,788.1 625.6,785.9 C628.3,783.6 630.4,770.4 628.7,768.0Z"/><path d="M603.8,747.2 C603.0,744.4 591.8,740.5 588.4,741.8 C585.1,743.1 577.2,754.2 578.1,757.0 C579.0,759.8 591.9,764.5 595.2,763.2 C598.6,762.0 604.7,750.0 603.8,747.2Z"/><path d="M586.8,719.9 C586.8,717.0 577.4,709.9 573.8,710.1 C570.3,710.3 559.3,718.6 559.2,721.5 C559.2,724.4 570.0,732.8 573.5,732.6 C577.1,732.4 586.8,722.9 586.8,719.9Z"/><path d="M579.2,688.8 C580.2,686.1 573.5,676.5 570.0,675.6 C566.5,674.7 553.5,679.2 552.5,682.0 C551.5,684.7 559.1,695.9 562.6,696.8 C566.1,697.7 578.3,691.6 579.2,688.8Z"/><path d="M581.8,657.0 C583.6,654.6 580.3,643.5 577.3,641.6 C574.3,639.7 560.4,640.0 558.6,642.4 C556.8,644.7 560.5,657.7 563.5,659.6 C566.5,661.5 580.1,659.3 581.8,657.0Z"/><path d="M594.4,627.4 C596.9,625.8 597.2,614.1 594.9,611.4 C592.7,608.7 579.4,604.9 576.9,606.6 C574.5,608.2 573.9,621.7 576.2,624.4 C578.4,627.1 592.0,629.1 594.4,627.4Z"/><path d="M615.7,603.2 C618.6,602.3 622.6,591.4 621.3,588.1 C620.0,584.8 608.5,577.2 605.7,578.0 C602.8,578.9 598.0,591.5 599.3,594.8 C600.6,598.0 612.9,604.0 615.7,603.2Z"/><path d="M643.6,586.5 C646.6,586.6 653.9,577.4 653.7,573.9 C653.5,570.4 645.1,559.6 642.1,559.6 C639.1,559.5 630.5,570.1 630.7,573.6 C630.9,577.1 640.7,586.5 643.6,586.5Z"/><path d="M675.5,579.1 C678.3,580.1 688.1,573.5 689.1,570.1 C690.0,566.7 685.3,554.0 682.5,553.0 C679.7,552.1 668.2,559.5 667.3,562.9 C666.4,566.3 672.7,578.2 675.5,579.1Z"/><path d="M708.1,581.7 C710.5,583.4 721.9,580.2 723.9,577.2 C725.8,574.3 725.4,560.7 723.0,559.0 C720.6,557.2 707.4,560.8 705.4,563.8 C703.5,566.7 705.7,579.9 708.1,581.7Z"/><path d="M738.3,594.0 C740.0,596.4 751.9,596.7 754.7,594.5 C757.5,592.3 761.4,579.3 759.7,576.9 C758.0,574.5 744.2,573.9 741.4,576.1 C738.7,578.4 736.6,591.6 738.3,594.0Z"/><path d="M763.2,614.8 C764.0,617.6 775.2,621.5 778.6,620.2 C781.9,618.9 789.8,607.8 788.9,605.0 C788.0,602.2 775.1,597.5 771.8,598.8 C768.4,600.0 762.3,612.0 763.2,614.8Z"/><path d="M780.2,642.1 C780.2,645.0 789.6,652.1 793.2,651.9 C796.7,651.7 807.7,643.4 807.8,640.5 C807.8,637.6 797.0,629.2 793.5,629.4 C789.9,629.6 780.2,639.1 780.2,642.1Z"/><path d="M787.8,673.2 C786.8,675.9 793.5,685.5 797.0,686.4 C800.5,687.3 813.5,682.8 814.5,680.0 C815.5,677.3 807.9,666.1 804.4,665.2 C800.9,664.3 788.7,670.4 787.8,673.2Z"/></g>
<ellipse cx="683.5" cy="681" rx="131.7" ry="128.9" fill="none" stroke="#232323" stroke-width="1.45" />
<ellipse cx="683.5" cy="681" rx="103.9" ry="101.25" fill="none" stroke="#232323" stroke-width="1.45" />
<ellipse cx="495.4" cy="531.3" rx="76" ry="74.2" fill="none" stroke="#232323" stroke-width="1.45" />
<path d="M589.7,556.4 L589.2,557.9 L588.7,559.2 L588.0,560.4 L587.2,561.5 L586.4,562.5 L585.4,563.4 L584.4,564.2 L583.3,564.9 L582.2,565.5 L581.0,566.1 L579.8,566.5 L578.5,566.9 L577.3,567.3 L576.0,567.6 L574.7,567.9 L573.4,568.1 L572.1,568.4 L570.8,568.6 L569.6,568.9 L568.4,569.2 L567.2,569.5 L566.1,569.9 L565.0,570.3 L563.9,570.7 L562.9,571.3 L562.0,571.9 L561.1,572.6 L560.3,573.3 L559.5,574.2 L558.7,575.1 L558.0,576.2 L557.4,577.3 L556.7,578.6 L556.1,579.9 L555.5,581.3 L554.9,582.9 L554.3,584.5 L553.7,586.2 L553.0,588.0 L552.3,589.8 L551.6,591.7 L550.8,593.7 L550.0,595.6 L549.1,597.6 L548.2,599.7 L547.2,601.7 L546.1,603.6 L544.9,605.6 L543.7,607.5 L542.4,609.3 L541.1,611.0 L539.7,612.7 L538.3,614.2 L536.8,615.6 L535.3,616.9 L533.8,618.1 L532.3,619.1 L530.8,620.0 L529.3,620.7 L527.8,621.3 L526.3,621.8 L524.9,622.1 L523.5,622.2 L522.1,622.2 L520.7,622.1 L519.5,621.8 L518.2,621.5 L517.0,621.0 L515.8,620.5 L514.7,619.8 L513.6,619.1 L512.6,618.3 L511.6,617.5 L510.6,616.6 L509.6,615.8 L508.6,614.9 L507.7,614.0 L506.8,613.1 L505.8,612.3 L504.9,611.5 L504.0,610.7 L503.0,610.0 L502.1,609.3 L501.1,608.8 L500.1,608.3 L499.0,607.8 L497.9,607.5 L496.8,607.3 L495.6,607.1 L494.4,607.1 L493.1,607.1 L491.8,607.2 L490.4,607.4 L488.9,607.7 L487.3,608.0 L485.7,608.4 L484.0,608.8 L482.2,609.3 L480.3,609.8 L478.4,610.3 L476.4,610.8 L474.3,611.3 L472.2,611.7 L470.0,612.1 L467.7,612.5 L465.5,612.8 L463.2,613.1 L460.9,613.3 L458.6,613.4 L456.4,613.4 L454.1,613.3 L452.0,613.1 L449.8,612.9 L447.8,612.5 L445.9,612.0 L444.0,611.5 L442.3,610.8 L440.7,610.1 L439.2,609.3 L437.9,608.5 L436.7,607.5 L435.6,606.5 L434.7,605.5 L433.9,604.4 L433.2,603.2 L432.7,602.1 L432.3,600.8 L432.0,599.6 L431.8,598.4 L431.7,597.1 L431.7,595.8 L431.8,594.5 L431.9,593.2 L432.0,592.0 L432.2,590.7 L432.4,589.4 L432.7,588.1 L432.9,586.9 L433.1,585.7 L433.2,584.5 L433.3,583.3 L433.4,582.1 L433.4,581.0 L433.3,579.9 L433.2,578.8 L432.9,577.7 L432.6,576.6 L432.1,575.6 L431.6,574.6 L431.0,573.6 L430.2,572.5 L429.3,571.5 L428.4,570.5 L427.3,569.5 L426.2,568.4 L424.9,567.3 L423.6,566.2 L422.2,565.0 L420.7,563.8 L419.2,562.5 L417.6,561.2 L416.0,559.8 L414.4,558.3 L412.8,556.8 L411.2,555.2 L409.6,553.6 L408.1,551.9 L406.7,550.2 L405.3,548.4 L404.0,546.6 L402.8,544.7 L401.7,542.9 L400.7,541.0 L399.9,539.2 L399.2,537.4 L398.6,535.6 L398.2,533.8 L397.9,532.1 L397.7,530.5 L397.7,528.9 L397.8,527.4 L398.0,526.0 L398.4,524.7 L398.8,523.4 L399.4,522.2 L400.1,521.1 L400.9,520.1 L401.8,519.2 L402.7,518.3 L403.7,517.5 L404.8,516.8 L405.9,516.1 L407.1,515.5 L408.3,514.9 L409.4,514.3 L410.6,513.7 L411.8,513.2 L413.0,512.7 L414.1,512.1 L415.2,511.5 L416.3,511.0 L417.3,510.4 L418.3,509.7 L419.2,509.0 L420.0,508.3 L420.8,507.5 L421.5,506.6 L422.1,505.6 L422.7,504.6 L423.2,503.5 L423.6,502.4 L424.0,501.1 L424.3,499.7 L424.5,498.3 L424.8,496.8 L425.0,495.1 L425.2,493.4 L425.4,491.6 L425.6,489.7 L425.8,487.8 L426.0,485.8 L426.3,483.7 L426.6,481.6 L427.0,479.4 L427.4,477.3 L427.9,475.1 L428.5,472.9 L429.1,470.7 L429.8,468.6 L430.6,466.6 L431.5,464.6 L432.4,462.6 L433.4,460.8 L434.5,459.1 L435.6,457.5 L436.8,456.0 L438.0,454.6 L439.3,453.4 L440.6,452.4 L441.9,451.5 L443.2,450.7 L444.5,450.1 L445.9,449.6 L447.2,449.3 L448.5,449.1 L449.8,449.0 L451.1,449.1 L452.4,449.2 L453.7,449.5 L454.9,449.9 L456.2,450.3 L457.4,450.8 L458.6,451.4 L459.8,452.0 L460.9,452.6 L462.1,453.2 L463.2,453.9 L464.3,454.5 L465.4,455.1 L466.5,455.7 L467.6,456.2 L468.7,456.7 L469.8,457.1 L470.9,457.4 L472.0,457.7 L473.1,457.8 L474.3,457.9 L475.4,457.9 L476.6,457.7 L477.8,457.5 L479.0,457.2 L480.3,456.8 L481.6,456.2 L483.0,455.6 L484.4,455.0 L485.9,454.2 L487.5,453.4 L489.1,452.5 L490.8,451.6 L492.5,450.7 L494.4,449.7 L496.3,448.7 L498.2,447.8 L500.3,446.9 L502.3,446.0 L504.5,445.1 L506.6,444.3 L508.8,443.6 L511.0,443.0 L513.2,442.5 L515.4,442.0 L517.5,441.7 L519.6,441.5 L521.7,441.4 L523.7,441.3 L525.6,441.4 L527.4,441.7 L529.2,442.0 L530.8,442.4 L532.3,443.0 L533.7,443.6 L535.0,444.3 L536.2,445.1 L537.2,446.0 L538.1,446.9 L538.9,448.0 L539.6,449.0 L540.2,450.2 L540.7,451.3 L541.1,452.5 L541.4,453.8 L541.7,455.0 L541.9,456.3 L542.0,457.6 L542.2,458.9 L542.3,460.2 L542.4,461.5 L542.5,462.7 L542.6,463.9 L542.7,465.2 L542.9,466.3 L543.2,467.5 L543.4,468.6 L543.8,469.7 L544.2,470.7 L544.7,471.7 L545.3,472.6 L546.0,473.5 L546.7,474.4 L547.6,475.2 L548.6,476.0 L549.7,476.8 L550.9,477.6 L552.1,478.3 L553.5,479.1 L555.0,479.9 L556.6,480.7 L558.2,481.5 L560.0,482.3 L561.8,483.2 L563.6,484.1 L565.5,485.1 L567.4,486.1 L569.4,487.2 L571.3,488.4 L573.2,489.6 L575.1,490.9 L576.9,492.3 L578.7,493.7 L580.4,495.1 L582.0,496.6 L583.5,498.2 L584.9,499.7 L586.2,501.3 L587.3,502.9 L588.3,504.5 L589.2,506.1 L589.9,507.7 L590.5,509.3 L590.9,510.8 L591.1,512.3 L591.3,513.7 L591.2,515.1 L591.1,516.4 L590.8,517.7 L590.4,518.9 L589.9,520.1 L589.3,521.2 L588.6,522.2 L587.8,523.3 L586.9,524.2 L586.0,525.2 L585.0,526.0 L584.0,526.9 L583.0,527.7 L582.0,528.6 L581.0,529.4 L580.0,530.2 L579.0,531.0 L578.1,531.8 L577.2,532.6 L576.3,533.4 L575.6,534.3 L574.9,535.1 L574.2,536.1 L573.7,537.0 L573.2,538.0 L572.8,539.1 L572.6,540.2 L572.3,541.4 M573.5,542.2 L572.9,543.1 L572.4,544.1 L571.9,545.1 L571.6,546.2 L571.3,547.4 L571.1,548.6 L570.9,550.0 L570.8,551.4 L570.8,552.9 L570.9,554.4 L570.9,556.1 L571.0,557.8 L571.2,559.6 L571.3,561.5 L571.4,563.5 L571.5,565.5 L571.6,567.6 L571.6,569.8 L571.6,572.0 L571.5,574.2 L571.4,576.4 L571.2,578.7 L570.9,580.9 L570.5,583.1 L570.1,585.3 L569.5,587.4 L568.9,589.4 L568.2,591.3 L567.4,593.2 L566.6,594.9 L565.6,596.6 L564.6,598.1 L563.6,599.4 L562.5,600.6 L561.3,601.7 L560.2,602.7 L558.9,603.5 L557.7,604.1 L556.4,604.6 L555.2,605.0 L553.9,605.3 L552.6,605.4 L551.3,605.4 L550.0,605.3 L548.7,605.1 L547.4,604.9 L546.1,604.6 L544.9,604.2 L543.6,603.8 L542.4,603.3 L541.1,602.9 L539.9,602.4 L538.7,602.0 L537.5,601.6 L536.3,601.2 L535.2,600.9 L534.0,600.6 L532.9,600.4 L531.7,600.3 L530.6,600.2 L529.5,600.2 L528.3,600.4 L527.2,600.6 L526.1,600.9 L524.9,601.4 L523.8,601.9 L522.6,602.6 L521.3,603.3 L520.1,604.1 L518.8,605.0 L517.4,606.0 L516.0,607.1 L514.5,608.2 L513.0,609.4 L511.4,610.6 L509.8,611.9 L508.0,613.1 L506.2,614.4 L504.4,615.6 L502.5,616.8 L500.5,618.0 L498.5,619.1 L496.5,620.1 L494.4,621.1 L492.3,621.9 L490.3,622.7 L488.2,623.3 L486.1,623.9 L484.1,624.3 L482.2,624.6 L480.3,624.8 L478.4,624.8 L476.7,624.8 L475.0,624.6 L473.5,624.3 L472.0,623.9 L470.6,623.3 L469.4,622.7 L468.2,622.0 L467.2,621.2 L466.3,620.3 L465.4,619.3 L464.7,618.3 L464.0,617.2 L463.4,616.1 L462.9,614.9 L462.4,613.7 L462.0,612.4 L461.7,611.2 L461.3,609.9 L461.0,608.7 L460.7,607.5 L460.4,606.2 L460.1,605.0 L459.7,603.9 L459.3,602.8 L458.9,601.7 L458.4,600.6 L457.9,599.6 L457.3,598.7 L456.6,597.8 L455.9,597.0 L455.0,596.2 L454.1,595.5 L453.1,594.8 L452.0,594.2 L450.7,593.6 L449.4,593.0 L448.0,592.5 L446.5,592.0 L444.9,591.4 L443.2,590.9 L441.4,590.4 L439.5,589.8 L437.6,589.2 L435.6,588.6 L433.6,587.9 L431.5,587.2 L429.4,586.4 L427.3,585.6 L425.2,584.6 L423.1,583.7 L421.1,582.6 L419.1,581.5 L417.2,580.3 L415.4,579.1 L413.7,577.8 L412.1,576.5 L410.6,575.1 L409.2,573.7 L408.0,572.3 L406.9,570.8 L406.0,569.4 L405.2,567.9 L404.5,566.5 L404.1,565.1 L403.7,563.7 L403.5,562.3 L403.5,561.0 L403.6,559.7 L403.8,558.4 L404.2,557.2 L404.6,556.0 L405.1,554.9 L405.8,553.8 L406.5,552.7 L407.2,551.6 L408.0,550.6 L408.9,549.6 L409.7,548.6 L410.6,547.6 L411.5,546.7 L412.3,545.7 L413.1,544.8 L413.9,543.9 L414.7,542.9 L415.3,542.0 L415.9,541.0 L416.5,540.0 L416.9,539.0 L417.3,537.9 L417.5,536.9 L417.7,535.8 L417.8,534.6 L417.8,533.4 L417.7,532.1 L417.5,530.8 L417.2,529.4 L416.9,528.0 L416.5,526.5 L416.0,524.9 L415.5,523.2 L414.9,521.5 L414.3,519.7 L413.7,517.8 L413.1,515.8 L412.5,513.8 L412.0,511.7 L411.4,509.6 L411.0,507.4 L410.5,505.2 L410.2,503.0 L409.9,500.8 L409.8,498.6 L409.7,496.4 L409.7,494.2 L409.8,492.1 L410.0,490.0 L410.3,488.0 L410.7,486.1 L411.2,484.3 L411.8,482.7 L412.5,481.1 L413.2,479.6 L414.1,478.3 L415.0,477.1 L416.0,476.1 L417.1,475.2 L418.2,474.4 L419.3,473.7 L420.5,473.2 L421.7,472.7 L423.0,472.4 L424.2,472.2 L425.5,472.1 L426.9,472.0 L428.2,472.0 L429.5,472.1 L430.8,472.2 L432.1,472.3 L433.4,472.5 L434.7,472.6 L436.0,472.8 L437.3,472.9 L438.5,473.0 L439.7,473.0 L440.9,473.0 L442.1,473.0 L443.2,472.8 L444.3,472.6 L445.4,472.3 L446.5,471.9 L447.5,471.4 L448.5,470.8 L449.5,470.1 L450.6,469.4 L451.6,468.5 L452.6,467.4 L453.6,466.3 L454.6,465.2 L455.7,463.9 L456.8,462.5 L458.0,461.1 L459.1,459.6 L460.4,458.0 L461.7,456.4 L463.1,454.8 L464.5,453.2 L466.0,451.5 L467.6,449.9 L469.2,448.3 L470.9,446.8 L472.6,445.3 L474.4,443.9 L476.2,442.6 L478.0,441.4 L479.8,440.2 L481.7,439.2 L483.5,438.4 L485.4,437.6 L487.2,437.0 L488.9,436.5 L490.6,436.2 L492.3,436.0 L493.9,435.9 L495.4,436.0 L496.9,436.2 L498.2,436.5 L499.5,436.9 L500.7,437.4 L501.9,438.1 L502.9,438.8 L503.9,439.7 L504.8,440.6 L505.7,441.5 L506.5,442.6 L507.2,443.6 L507.9,444.7 L508.6,445.8 L509.2,447.0 L509.8,448.1 L510.4,449.2 L511.0,450.4 L511.6,451.4 L512.3,452.5 L512.9,453.5 L513.6,454.5 L514.3,455.3 L515.1,456.2 L515.9,456.9 L516.7,457.6 L517.7,458.3 L518.7,458.8 L519.8,459.3 L520.9,459.7 L522.2,460.1 L523.5,460.4 L524.9,460.6 L526.4,460.8 L528.0,461.0 L529.7,461.1 L531.5,461.2 L533.4,461.3 L535.3,461.4 L537.3,461.5 L539.4,461.7 L541.5,461.9 L543.7,462.1 L546.0,462.4 L548.2,462.7 L550.5,463.1 L552.7,463.6 L554.9,464.1 L557.1,464.7 L559.3,465.4 L561.4,466.2 L563.3,467.1 L565.2,468.0 L567.0,469.0 L568.7,470.0 L570.2,471.1 L571.6,472.3 L572.9,473.4 L574.0,474.7 L575.0,475.9 L575.8,477.2 L576.5,478.4 L577.0,479.7 L577.3,481.0 L577.6,482.3 L577.7,483.6 L577.6,484.8 L577.5,486.1 L577.3,487.3 L576.9,488.6 L576.5,489.8 L576.0,491.0 L575.5,492.2 L574.9,493.3 L574.3,494.5 L573.7,495.6 L573.1,496.8 L572.5,497.9 L572.0,499.0 L571.4,500.1 L571.0,501.2 L570.5,502.3 L570.2,503.3 L569.9,504.4 L569.7,505.5 L569.6,506.6 L569.6,507.7 L569.7,508.8 L569.9,510.0 L570.2,511.1 L570.7,512.3 L571.2,513.6 L571.8,514.8 L572.5,516.2 L573.2,517.5 L574.1,519.0 L575.0,520.5 L576.0,522.0 L577.0,523.7 L578.0,525.3 L579.1,527.1 L580.2,528.9 L581.2,530.8 L582.2,532.8 L583.2,534.8 L584.2,536.8 L585.1,538.9 L585.9,541.0 L586.6,543.1 L587.2,545.2 L587.7,547.3 L588.2,549.4 L588.5,551.4 L588.6,553.4 L588.7,555.4" fill="none" stroke="#1a1a1a" stroke-width="1.4"/>
<g fill="#fbfbf7" stroke="#a0a0a0" stroke-width="0.8" stroke-dasharray="1.5 1.3"><path d="M570.7,544.7 C569.1,547.6 571.2,559.5 573.8,561.3 C576.3,563.1 588.6,561.4 590.2,558.6 C591.8,555.8 588.7,541.4 586.2,539.6 C583.7,537.8 572.4,541.9 570.7,544.7Z"/><path d="M555.7,577.4 C552.9,579.1 549.1,590.7 550.5,593.4 C551.9,596.2 563.5,600.2 566.3,598.5 C569.1,596.7 573.2,582.6 571.8,579.9 C570.5,577.1 558.5,575.6 555.7,577.4Z"/><path d="M526.9,599.4 C523.6,599.7 514.7,608.2 514.6,611.3 C514.5,614.4 522.9,623.2 526.2,622.9 C529.5,622.6 539.9,612.0 540.0,609.0 C540.1,605.9 530.2,599.1 526.9,599.4Z"/><path d="M490.8,605.9 C487.8,604.7 475.8,608.2 474.3,610.9 C472.8,613.5 476.0,625.2 479.1,626.4 C482.1,627.6 496.3,623.0 497.9,620.3 C499.4,617.6 493.9,607.1 490.8,605.9Z"/><path d="M455.8,595.3 C453.7,592.8 441.5,590.5 438.9,592.2 C436.2,593.8 433.5,605.6 435.6,608.1 C437.8,610.6 452.6,612.9 455.2,611.2 C457.8,609.6 457.9,597.8 455.8,595.3Z"/><path d="M429.9,570.0 C429.2,566.8 419.5,559.3 416.3,559.6 C413.2,559.8 405.2,569.0 405.9,572.2 C406.6,575.4 418.7,584.1 421.8,583.8 C424.9,583.6 430.6,573.2 429.9,570.0Z"/><path d="M419.0,535.9 C419.8,532.7 414.8,521.6 411.9,520.5 C409.1,519.3 397.6,523.8 396.7,526.9 C395.8,530.0 402.3,543.3 405.2,544.4 C408.1,545.6 418.1,539.0 419.0,535.9Z"/><path d="M425.5,500.7 C427.8,498.3 428.7,486.2 426.7,483.8 C424.7,481.5 412.3,480.3 410.1,482.7 C407.8,485.0 407.3,499.7 409.3,502.0 C411.3,504.3 423.3,503.0 425.5,500.7Z"/><path d="M448.1,472.5 C451.3,471.4 457.8,461.1 457.1,458.1 C456.5,455.1 446.1,448.5 443.0,449.5 C439.9,450.6 432.4,463.3 433.1,466.3 C433.8,469.3 445.0,473.6 448.1,472.5Z"/><path d="M481.6,457.8 C484.8,458.3 495.5,452.1 496.4,449.1 C497.2,446.2 491.2,435.6 487.9,435.1 C484.7,434.7 472.0,442.5 471.2,445.5 C470.3,448.4 478.3,457.3 481.6,457.8Z"/><path d="M518.1,459.9 C520.8,461.8 533.2,461.2 535.4,459.0 C537.5,456.8 537.3,444.7 534.6,442.8 C531.9,440.9 517.0,442.1 514.8,444.3 C512.7,446.5 515.5,458.0 518.1,459.9Z"/><path d="M549.5,478.4 C551.0,481.3 562.3,486.4 565.2,485.4 C568.2,484.4 573.7,473.6 572.3,470.7 C570.8,467.8 557.0,462.1 554.0,463.1 C551.1,464.1 548.1,475.5 549.5,478.4Z"/><path d="M568.5,509.0 C568.4,512.3 576.0,521.9 579.1,522.3 C582.2,522.8 592.2,515.7 592.3,512.5 C592.4,509.3 582.9,497.9 579.8,497.5 C576.7,497.0 568.6,505.8 568.5,509.0Z"/></g>
<ellipse cx="495.4" cy="531.3" rx="99.4" ry="97" fill="none" stroke="#232323" stroke-width="1.45" />
<ellipse cx="495.4" cy="531.3" rx="68.5" ry="66.7" fill="none" stroke="#232323" stroke-width="1.45" />
<ellipse cx="495" cy="830.3" rx="75.8" ry="73.8" fill="none" stroke="#232323" stroke-width="1.45" />
<path d="M577.2,881.3 L576.3,882.5 L575.3,883.6 L574.3,884.6 L573.3,885.4 L572.1,886.1 L571.0,886.7 L569.8,887.2 L568.5,887.6 L567.3,887.8 L566.0,888.0 L564.7,888.1 L563.4,888.1 L562.1,888.1 L560.8,888.0 L559.4,887.9 L558.1,887.8 L556.8,887.7 L555.6,887.6 L554.3,887.5 L553.1,887.4 L551.9,887.3 L550.7,887.4 L549.5,887.4 L548.4,887.6 L547.3,887.8 L546.2,888.1 L545.1,888.5 L544.1,889.0 L543.1,889.6 L542.1,890.3 L541.1,891.1 L540.1,892.0 L539.1,893.0 L538.2,894.1 L537.1,895.2 L536.1,896.5 L535.0,897.9 L533.9,899.3 L532.8,900.8 L531.6,902.4 L530.3,904.0 L529.0,905.6 L527.6,907.3 L526.1,908.9 L524.6,910.6 L523.1,912.2 L521.4,913.7 L519.7,915.2 L518.0,916.7 L516.2,918.1 L514.4,919.3 L512.6,920.5 L510.8,921.5 L509.0,922.5 L507.2,923.3 L505.4,924.0 L503.6,924.5 L501.9,924.9 L500.3,925.1 L498.7,925.3 L497.1,925.3 L495.7,925.1 L494.3,924.9 L493.0,924.5 L491.7,924.0 L490.6,923.4 L489.5,922.7 L488.5,921.9 L487.6,921.0 L486.7,920.1 L485.9,919.1 L485.1,918.1 L484.4,917.0 L483.7,915.9 L483.0,914.8 L482.4,913.7 L481.8,912.6 L481.1,911.5 L480.5,910.4 L479.9,909.4 L479.2,908.4 L478.5,907.4 L477.8,906.5 L477.0,905.7 L476.2,904.9 L475.3,904.3 L474.4,903.6 L473.4,903.1 L472.3,902.6 L471.2,902.2 L470.0,901.9 L468.6,901.6 L467.2,901.4 L465.8,901.2 L464.2,901.0 L462.5,900.9 L460.7,900.8 L458.9,900.8 L457.0,900.7 L455.0,900.6 L452.9,900.5 L450.8,900.4 L448.6,900.2 L446.4,900.0 L444.2,899.7 L441.9,899.3 L439.7,898.9 L437.4,898.4 L435.2,897.9 L433.1,897.2 L431.0,896.5 L429.0,895.7 L427.0,894.8 L425.2,893.9 L423.5,892.9 L421.9,891.8 L420.5,890.7 L419.2,889.6 L418.0,888.4 L417.0,887.2 L416.1,886.0 L415.4,884.7 L414.9,883.4 L414.4,882.2 L414.2,880.9 L414.0,879.6 L414.0,878.4 L414.1,877.1 L414.3,875.9 L414.5,874.6 L414.9,873.4 L415.4,872.2 L415.8,871.0 L416.4,869.8 L416.9,868.7 L417.5,867.5 L418.1,866.4 L418.7,865.3 L419.2,864.2 L419.7,863.0 L420.2,862.0 L420.6,860.9 L420.9,859.8 L421.2,858.7 L421.4,857.6 L421.5,856.5 L421.5,855.4 L421.4,854.3 L421.1,853.2 L420.8,852.0 L420.4,850.8 L419.9,849.6 L419.3,848.4 L418.6,847.1 L417.8,845.7 L417.0,844.3 L416.1,842.9 L415.1,841.3 L414.0,839.8 L413.0,838.1 L411.9,836.4 L410.8,834.6 L409.7,832.7 L408.6,830.8 L407.6,828.9 L406.6,826.9 L405.7,824.8 L404.8,822.8 L404.1,820.7 L403.4,818.6 L402.8,816.5 L402.3,814.4 L402.0,812.4 L401.7,810.4 L401.6,808.4 L401.6,806.6 L401.7,804.8 L401.9,803.1 L402.3,801.5 L402.7,800.0 L403.3,798.6 L403.9,797.3 L404.7,796.1 L405.5,795.1 L406.4,794.1 L407.4,793.3 L408.4,792.5 L409.6,791.9 L410.7,791.3 L411.9,790.9 L413.2,790.5 L414.4,790.1 L415.7,789.9 L417.0,789.6 L418.3,789.4 L419.6,789.2 L420.9,789.0 L422.2,788.9 L423.4,788.7 L424.6,788.4 L425.8,788.2 L427.0,787.9 L428.1,787.6 L429.1,787.1 L430.2,786.7 L431.1,786.1 L432.0,785.5 L432.9,784.8 L433.8,784.0 L434.6,783.1 L435.3,782.1 L436.1,781.0 L436.8,779.8 L437.5,778.5 L438.2,777.1 L438.9,775.6 L439.6,774.0 L440.3,772.4 L441.0,770.6 L441.8,768.8 L442.7,767.0 L443.5,765.1 L444.5,763.2 L445.5,761.2 L446.6,759.3 L447.7,757.4 L448.9,755.5 L450.2,753.6 L451.5,751.8 L452.9,750.1 L454.3,748.4 L455.8,746.8 L457.3,745.4 L458.8,744.1 L460.4,742.9 L462.0,741.8 L463.5,740.9 L465.1,740.1 L466.6,739.4 L468.2,738.9 L469.6,738.6 L471.1,738.4 L472.5,738.3 L473.9,738.4 L475.2,738.6 L476.5,738.9 L477.7,739.3 L478.9,739.8 L480.0,740.5 L481.1,741.2 L482.1,741.9 L483.1,742.8 L484.1,743.6 L485.0,744.5 L485.9,745.5 L486.8,746.4 L487.7,747.3 L488.6,748.2 L489.4,749.1 L490.3,750.0 L491.2,750.8 L492.1,751.6 L493.0,752.3 L494.0,752.9 L494.9,753.4 L496.0,753.9 L497.0,754.3 L498.1,754.6 L499.3,754.8 L500.5,754.9 L501.8,755.0 L503.1,754.9 L504.5,754.8 L506.0,754.7 L507.6,754.4 L509.2,754.1 L511.0,753.8 L512.8,753.4 L514.7,753.1 L516.6,752.7 L518.6,752.3 L520.7,751.9 L522.9,751.6 L525.1,751.3 L527.4,751.1 L529.6,750.9 L531.9,750.7 L534.2,750.7 L536.5,750.7 L538.7,750.9 L540.9,751.1 L543.1,751.4 L545.2,751.8 L547.2,752.3 L549.1,752.8 L550.9,753.5 L552.5,754.2 L554.1,755.0 L555.5,755.9 L556.8,756.8 L557.9,757.8 L558.9,758.9 L559.8,760.0 L560.5,761.1 L561.1,762.3 L561.5,763.5 L561.9,764.7 L562.1,766.0 L562.2,767.2 L562.2,768.5 L562.2,769.7 L562.1,771.0 L561.9,772.3 L561.6,773.5 L561.4,774.8 L561.1,776.1 L560.8,777.3 L560.5,778.5 L560.3,779.7 L560.1,780.9 L559.9,782.1 L559.7,783.2 L559.7,784.4 L559.7,785.5 L559.8,786.6 L560.0,787.7 L560.2,788.7 L560.6,789.8 L561.1,790.8 L561.7,791.9 L562.4,792.9 L563.2,794.0 L564.1,795.1 L565.0,796.2 L566.1,797.3 L567.3,798.5 L568.6,799.7 L569.9,800.9 L571.3,802.2 L572.7,803.6 L574.2,805.0 L575.7,806.5 L577.2,808.0 L578.7,809.6 L580.2,811.3 L581.6,813.0 L583.0,814.8 L584.4,816.6 L585.6,818.4 L586.8,820.3 L587.9,822.2 L588.9,824.1 L589.7,826.0 L590.4,827.9 L591.0,829.7 L591.5,831.5 L591.8,833.3 L592.0,835.0 L592.1,836.6 L592.0,838.2 L591.8,839.7 L591.5,841.1 L591.1,842.4 L590.5,843.6 L589.9,844.8 L589.1,845.8 L588.3,846.8 L587.4,847.6 L586.4,848.5 L585.3,849.2 L584.2,849.9 L583.1,850.5 L581.9,851.1 L580.7,851.6 L579.5,852.1 L578.3,852.6 L577.1,853.1 L575.9,853.5 L574.7,854.0 L573.6,854.5 L572.5,855.0 L571.5,855.6 L570.5,856.2 L569.5,856.8 L568.7,857.5 L567.9,858.3 L567.1,859.1 L566.4,860.0 L565.8,861.0 L565.3,862.0 M566.1,863.1 L565.3,863.8 L564.5,864.6 L563.7,865.5 L563.0,866.4 L562.4,867.5 L561.8,868.6 L561.3,869.8 L560.8,871.1 L560.3,872.5 L559.9,874.0 L559.5,875.6 L559.0,877.3 L558.6,879.1 L558.1,880.9 L557.7,882.8 L557.1,884.8 L556.6,886.8 L556.0,888.9 L555.3,890.9 L554.5,893.0 L553.7,895.1 L552.9,897.2 L551.9,899.2 L550.9,901.2 L549.8,903.1 L548.7,905.0 L547.4,906.7 L546.2,908.4 L544.9,909.9 L543.5,911.3 L542.2,912.6 L540.8,913.7 L539.4,914.7 L537.9,915.6 L536.5,916.3 L535.1,916.8 L533.7,917.2 L532.3,917.5 L531.0,917.6 L529.6,917.6 L528.3,917.5 L527.1,917.2 L525.8,916.9 L524.6,916.4 L523.5,915.9 L522.3,915.3 L521.2,914.6 L520.1,913.9 L519.0,913.2 L518.0,912.4 L516.9,911.6 L515.9,910.8 L514.9,910.1 L513.9,909.3 L512.9,908.6 L511.9,908.0 L510.8,907.4 L509.8,906.9 L508.8,906.4 L507.7,906.1 L506.6,905.8 L505.5,905.6 L504.4,905.5 L503.2,905.5 L502.0,905.6 L500.7,905.7 L499.4,906.0 L498.0,906.4 L496.5,906.8 L495.0,907.3 L493.4,907.8 L491.7,908.4 L490.0,909.1 L488.2,909.8 L486.3,910.5 L484.3,911.2 L482.3,911.9 L480.2,912.5 L478.1,913.2 L475.9,913.8 L473.7,914.3 L471.5,914.8 L469.2,915.2 L467.0,915.5 L464.7,915.7 L462.5,915.8 L460.4,915.8 L458.3,915.8 L456.2,915.6 L454.3,915.3 L452.4,914.9 L450.7,914.4 L449.0,913.9 L447.5,913.2 L446.1,912.5 L444.8,911.7 L443.7,910.8 L442.7,909.8 L441.8,908.8 L441.1,907.7 L440.4,906.6 L439.9,905.4 L439.5,904.3 L439.2,903.0 L439.0,901.8 L438.8,900.5 L438.8,899.2 L438.8,898.0 L438.8,896.7 L438.8,895.4 L438.9,894.1 L439.0,892.8 L439.0,891.6 L439.1,890.4 L439.1,889.2 L439.1,888.0 L439.0,886.8 L438.8,885.7 L438.6,884.6 L438.3,883.6 L438.0,882.5 L437.5,881.5 L436.9,880.5 L436.3,879.6 L435.5,878.6 L434.6,877.7 L433.6,876.8 L432.6,875.9 L431.4,875.0 L430.1,874.0 L428.7,873.1 L427.3,872.1 L425.7,871.0 L424.1,870.0 L422.5,868.9 L420.8,867.7 L419.0,866.4 L417.3,865.2 L415.5,863.8 L413.8,862.4 L412.1,860.9 L410.4,859.4 L408.8,857.8 L407.3,856.2 L405.8,854.5 L404.5,852.8 L403.2,851.1 L402.1,849.3 L401.1,847.6 L400.2,845.9 L399.5,844.2 L398.9,842.5 L398.4,840.8 L398.1,839.2 L397.9,837.7 L397.9,836.2 L398.0,834.8 L398.2,833.4 L398.6,832.2 L399.1,831.0 L399.7,829.8 L400.3,828.7 L401.1,827.7 L402.0,826.8 L402.9,825.9 L403.9,825.1 L404.9,824.3 L406.0,823.6 L407.1,822.8 L408.2,822.2 L409.3,821.5 L410.4,820.8 L411.5,820.2 L412.6,819.5 L413.6,818.8 L414.6,818.1 L415.5,817.4 L416.4,816.7 L417.2,815.9 L417.9,815.0 L418.6,814.2 L419.1,813.2 L419.6,812.2 L420.1,811.1 L420.4,810.0 L420.7,808.7 L420.9,807.4 L421.1,806.0 L421.2,804.6 L421.3,803.0 L421.3,801.4 L421.3,799.6 L421.3,797.8 L421.3,795.9 L421.3,793.9 L421.3,791.9 L421.4,789.8 L421.5,787.7 L421.6,785.5 L421.8,783.3 L422.1,781.1 L422.4,778.9 L422.9,776.7 L423.4,774.5 L423.9,772.4 L424.6,770.3 L425.3,768.4 L426.2,766.5 L427.1,764.7 L428.0,763.0 L429.0,761.4 L430.1,760.0 L431.2,758.7 L432.4,757.5 L433.6,756.5 L434.8,755.7 L436.1,754.9 L437.4,754.4 L438.7,753.9 L440.0,753.6 L441.2,753.4 L442.5,753.4 L443.8,753.4 L445.1,753.6 L446.4,753.8 L447.6,754.2 L448.9,754.5 L450.1,755.0 L451.4,755.5 L452.6,756.0 L453.8,756.5 L454.9,757.0 L456.1,757.5 L457.3,758.0 L458.4,758.4 L459.6,758.8 L460.7,759.1 L461.8,759.4 L463.0,759.6 L464.1,759.7 L465.2,759.7 L466.3,759.7 L467.5,759.5 L468.6,759.2 L469.8,758.9 L471.0,758.4 L472.2,757.8 L473.5,757.2 L474.8,756.4 L476.1,755.6 L477.5,754.6 L479.0,753.7 L480.5,752.6 L482.1,751.6 L483.8,750.4 L485.5,749.3 L487.3,748.2 L489.2,747.0 L491.1,745.9 L493.1,744.8 L495.1,743.8 L497.1,742.8 L499.2,741.9 L501.3,741.1 L503.4,740.3 L505.6,739.7 L507.7,739.2 L509.7,738.7 L511.7,738.4 L513.7,738.3 L515.6,738.2 L517.4,738.2 L519.2,738.4 L520.8,738.7 L522.3,739.1 L523.8,739.6 L525.1,740.2 L526.3,740.9 L527.4,741.7 L528.4,742.5 L529.3,743.5 L530.1,744.5 L530.7,745.5 L531.3,746.6 L531.9,747.8 L532.3,749.0 L532.7,750.2 L533.0,751.5 L533.3,752.7 L533.6,754.0 L533.8,755.2 L534.1,756.5 L534.3,757.7 L534.6,758.9 L534.8,760.1 L535.2,761.2 L535.5,762.3 L535.9,763.4 L536.4,764.4 L537.0,765.4 L537.6,766.3 L538.3,767.1 L539.1,768.0 L539.9,768.7 L540.9,769.5 L542.0,770.2 L543.2,770.8 L544.5,771.5 L545.8,772.1 L547.3,772.7 L548.9,773.3 L550.5,773.9 L552.3,774.6 L554.1,775.2 L556.0,775.9 L557.9,776.7 L559.9,777.5 L561.9,778.3 L563.9,779.2 L566.0,780.2 L568.0,781.2 L570.0,782.3 L571.9,783.5 L573.8,784.7 L575.7,786.0 L577.4,787.3 L579.0,788.7 L580.6,790.1 L582.0,791.6 L583.2,793.0 L584.4,794.5 L585.4,796.0 L586.2,797.5 L586.9,799.0 L587.4,800.4 L587.8,801.9 L588.1,803.3 L588.2,804.6 L588.1,806.0 L588.0,807.3 L587.7,808.5 L587.3,809.7 L586.8,810.9 L586.2,812.0 L585.5,813.0 L584.7,814.1 L583.9,815.1 L583.1,816.1 L582.2,817.0 L581.3,817.9 L580.3,818.8 L579.4,819.7 L578.5,820.6 L577.7,821.5 L576.8,822.4 L576.1,823.3 L575.3,824.2 L574.7,825.2 L574.1,826.1 L573.6,827.1 L573.2,828.1 L572.8,829.2 L572.6,830.3 L572.5,831.4 L572.4,832.6 L572.4,833.9 L572.5,835.2 L572.7,836.6 L573.0,838.1 L573.3,839.6 L573.7,841.2 L574.1,842.9 L574.5,844.6 L575.0,846.5 L575.5,848.4 L576.0,850.4 L576.4,852.4 L576.9,854.5 L577.2,856.7 L577.6,858.8 L577.9,861.0 L578.1,863.3 L578.2,865.5 L578.2,867.7 L578.2,869.9 L578.1,872.1 L577.8,874.2 L577.5,876.2 L577.1,878.1 L576.5,880.0" fill="none" stroke="#1a1a1a" stroke-width="1.4"/>
<g fill="#fbfbf7" stroke="#a0a0a0" stroke-width="0.8" stroke-dasharray="1.5 1.3"><path d="M562.7,864.8 C560.3,867.0 558.7,879.0 560.6,881.4 C562.4,883.9 574.6,885.7 576.9,883.5 C579.3,881.3 580.8,866.8 578.9,864.3 C577.1,861.9 565.1,862.5 562.7,864.8Z"/><path d="M538.6,891.5 C535.4,892.4 528.2,902.3 528.7,905.3 C529.2,908.3 539.1,915.5 542.2,914.6 C545.4,913.7 553.6,901.5 553.1,898.5 C552.6,895.5 541.7,890.7 538.6,891.5Z"/><path d="M504.4,904.3 C501.2,903.6 490.1,909.1 489.1,912.0 C488.1,914.9 493.5,925.7 496.7,926.3 C499.9,927.0 513.0,919.9 514.0,917.0 C515.0,914.2 507.6,904.9 504.4,904.3Z"/><path d="M468.1,900.1 C465.6,898.0 453.2,897.9 450.9,900.0 C448.7,902.1 448.2,914.1 450.8,916.1 C453.3,918.2 468.3,917.8 470.5,915.7 C472.8,913.6 470.7,902.1 468.1,900.1Z"/><path d="M438.0,879.9 C436.7,876.9 425.8,871.2 422.8,872.0 C419.8,872.8 413.7,883.2 415.0,886.2 C416.3,889.2 429.7,895.6 432.6,894.8 C435.6,894.0 439.2,882.8 438.0,879.9Z"/><path d="M420.9,848.3 C421.2,845.1 414.2,835.1 411.2,834.5 C408.2,833.8 397.8,840.3 397.5,843.5 C397.2,846.7 406.0,858.5 409.1,859.2 C412.1,859.8 420.6,851.5 420.9,848.3Z"/><path d="M420.8,812.7 C422.6,809.9 421.2,797.9 418.8,796.0 C416.4,794.0 404.2,795.1 402.4,797.8 C400.6,800.5 402.8,814.9 405.2,816.9 C407.6,818.8 419.0,815.4 420.8,812.7Z"/><path d="M437.7,781.0 C440.6,779.4 445.1,768.1 443.9,765.4 C442.7,762.6 431.3,757.9 428.5,759.5 C425.6,761.1 420.7,774.9 421.9,777.7 C423.1,780.5 434.8,782.6 437.7,781.0Z"/><path d="M467.7,760.7 C471.0,760.5 480.4,752.6 480.7,749.6 C480.9,746.6 473.1,737.3 469.8,737.4 C466.5,737.6 455.6,747.5 455.3,750.5 C455.0,753.5 464.4,760.8 467.7,760.7Z"/><path d="M504.0,756.3 C507.0,757.7 519.0,754.9 520.7,752.3 C522.4,749.8 519.9,738.0 516.9,736.7 C513.9,735.3 499.5,739.1 497.8,741.6 C496.2,744.2 501.0,754.9 504.0,756.3Z"/><path d="M538.2,768.8 C540.2,771.4 552.2,774.4 554.9,772.9 C557.6,771.4 561.0,759.9 559.0,757.3 C557.0,754.7 542.4,751.6 539.7,753.1 C537.0,754.6 536.2,766.3 538.2,768.8Z"/><path d="M562.5,795.5 C563.1,798.7 572.2,806.8 575.4,806.7 C578.5,806.6 586.9,797.9 586.4,794.7 C585.9,791.5 574.5,782.1 571.4,782.2 C568.3,782.3 562.0,792.3 562.5,795.5Z"/><path d="M571.4,830.1 C570.3,833.2 574.6,844.5 577.4,845.8 C580.2,847.1 591.8,843.3 592.9,840.2 C593.9,837.2 588.3,823.7 585.5,822.4 C582.7,821.0 572.4,827.1 571.4,830.1Z"/></g>
<ellipse cx="495" cy="830.3" rx="99" ry="96.7" fill="none" stroke="#232323" stroke-width="1.45" />
<ellipse cx="495" cy="830.3" rx="68" ry="65.6" fill="none" stroke="#232323" stroke-width="1.45" />
<ellipse cx="494.4" cy="680.45" rx="146" ry="142" fill="none" stroke="#1a1a1a" stroke-width="1.4" />
<ellipse cx="494.85" cy="680.3" rx="134.25" ry="130.5" fill="none" stroke="#e4ec44" stroke-width="1.7" />
<ellipse cx="494.3" cy="611.8" rx="20.5" ry="20" fill="#fff" stroke="#232323" stroke-width="1.4" />
<ellipse cx="494.2" cy="749.1" rx="20.5" ry="20" fill="#fff" stroke="#232323" stroke-width="1.4" />
<ellipse cx="424.5" cy="680.8" rx="20.5" ry="20" fill="#fff" stroke="#232323" stroke-width="1.4" />
<ellipse cx="564.8" cy="680.5" rx="20.5" ry="20" fill="#fff" stroke="#232323" stroke-width="1.4" />
<path d="M391.2,73.5 L393.6,73.5 L394.9,75.0 L394.0,76.2 L394.9,77.5 L394.0,78.8 L394.9,80.0 L394.0,81.3 L394.9,82.6 L394.0,83.9 L394.9,85.1 L394.0,86.4 L394.9,86.2 L397.3,89.6 L394.9,88.8 L394.9,95.0 L389.9,95.0 L389.9,88.8 L387.5,89.6 L389.9,86.2 L390.8,86.4 L389.9,85.1 L390.8,83.9 L389.9,82.6 L390.8,81.3 L389.9,80.0 L390.8,78.8 L389.9,77.5 L390.8,76.2 L389.9,75.0 Z" fill="#fff" stroke="#8a8a8a" stroke-width="0.9"/>
<line x1="392.4" y1="74.5" x2="392.4" y2="86.2" stroke="#8a8a8a" stroke-width="0.7"/>
<path d="M475.4,82.0 L477.8,82.0 L479.1,83.5 L478.2,84.7 L479.1,86.0 L478.2,87.3 L479.1,88.5 L478.2,89.8 L479.1,91.1 L478.2,92.4 L479.1,93.6 L478.2,94.9 L479.1,94.7 L481.5,98.1 L479.1,97.3 L479.1,103.5 L474.1,103.5 L474.1,97.3 L471.7,98.1 L474.1,94.7 L475.0,94.9 L474.1,93.6 L475.0,92.4 L474.1,91.1 L475.0,89.8 L474.1,88.5 L475.0,87.3 L474.1,86.0 L475.0,84.7 L474.1,83.5 Z" fill="#fff" stroke="#8a8a8a" stroke-width="0.9"/>
<line x1="476.6" y1="83.0" x2="476.6" y2="94.7" stroke="#8a8a8a" stroke-width="0.7"/>
<path d="M517.1,77.5 L519.3,77.5 L520.6,78.9 L519.7,80.0 L520.6,81.2 L519.7,82.4 L520.6,83.6 L519.7,84.8 L520.6,86.0 L519.7,87.1 L520.6,88.3 L519.7,89.5 L520.6,89.3 L522.7,92.5 L520.6,91.8 L520.6,97.5 L515.8,97.5 L515.8,91.8 L513.7,92.5 L515.8,89.3 L516.7,89.5 L515.8,88.3 L516.7,87.1 L515.8,86.0 L516.7,84.8 L515.8,83.6 L516.7,82.4 L515.8,81.2 L516.7,80.0 L515.8,78.9 Z" fill="#fff" stroke="#8a8a8a" stroke-width="0.9"/>
<line x1="518.2" y1="78.5" x2="518.2" y2="89.3" stroke="#8a8a8a" stroke-width="0.7"/>
<path d="M596.6,104.5 L598.8,104.5 L600.1,105.9 L599.2,107.0 L600.1,108.2 L599.2,109.4 L600.1,110.6 L599.2,111.8 L600.1,113.0 L599.2,114.1 L600.1,115.3 L599.2,116.5 L600.1,116.3 L602.2,119.5 L600.1,118.8 L600.1,124.5 L595.3,124.5 L595.3,118.8 L593.2,119.5 L595.3,116.3 L596.2,116.5 L595.3,115.3 L596.2,114.1 L595.3,113.0 L596.2,111.8 L595.3,110.6 L596.2,109.4 L595.3,108.2 L596.2,107.0 L595.3,105.9 Z" fill="#fff" stroke="#8a8a8a" stroke-width="0.9"/>
<line x1="597.7" y1="105.5" x2="597.7" y2="116.3" stroke="#8a8a8a" stroke-width="0.7"/>
<g stroke="#111" stroke-linejoin="round">
<path d="M377.3,97.4 L620.5,133.8 Q623.6,134.6 623.6,138 L623.6,147 Q623,152 616.5,152.3 L613.8,152 L613.8,141.3 L377.6,106.4 Z" fill="#fff" stroke-width="1.3"/>
<line x1="377.3" y1="97.4" x2="620.5" y2="133.8" stroke-width="2.4"/>
<path d="M377.3,97.4 L367.4,104.6 L367.4,115.3 L377.4,109.8 Z" fill="#fff" stroke-width="1.6"/>
<circle cx="371.8" cy="109.6" r="1.3" fill="#111" stroke="none"/>
<circle cx="618.4" cy="146.6" r="1.4" fill="#111" stroke="none"/>
</g>
<rect x="380.5" y="102.4" width="17" height="3.2" rx="1.6" fill="#111" transform="rotate(8.530765609948133 389 104)"/>
<rect x="404.5" y="106.1" width="6" height="3" rx="1.5" fill="#111" transform="rotate(8.530765609948133 407.5 107.6)"/>
<rect x="438.3" y="111.8" width="24" height="3.2" rx="1.6" fill="#111" transform="rotate(8.530765609948133 450.3 113.4)"/>
<rect x="529.5" y="125.4" width="22" height="3.2" rx="1.6" fill="#111" transform="rotate(8.530765609948133 540.5 127)"/>
<rect x="578.0" y="131.1" width="6" height="3" rx="1.5" fill="#111" transform="rotate(8.530765609948133 581 132.6)"/>
<rect x="594.0" y="133.9" width="14" height="3.2" rx="1.6" fill="#111" transform="rotate(8.530765609948133 601 135.5)"/>
<g stroke="#111" stroke-linejoin="round">
<path d="M426.6,156.6 L544.5,81.1 L547,94.7 L445.6,160 Z" fill="#fff" stroke-width="1.3"/>
<line x1="426.6" y1="156.6" x2="544.5" y2="81.1" stroke-width="2.5"/>
<path d="M544.5,81.1 L563.5,83.2 L564.3,91.5 Q564,95.2 558,95.2 L547,94.7 Z" fill="#fff" stroke-width="1.6"/>
<path d="M426.6,156.6 L445.6,160 L445.2,168.5 Q444.5,172 439,172 L430.5,171 Q427.4,170.5 427.4,167 Z" fill="#fff" stroke-width="1.6"/>
<circle cx="554.8" cy="90.6" r="1.5" fill="#111" stroke="none"/>
<circle cx="436.2" cy="167" r="1.4" fill="#111" stroke="none"/>
</g>
<rect x="508.7" y="105.3" width="17" height="3.4" rx="1.7" fill="#111" transform="rotate(-32.63440980347349 517.2 107)"/>
<rect x="532.5" y="92.8" width="8" height="3" rx="1.5" fill="#111" transform="rotate(-32.63440980347349 536.5 94.3)"/>
<rect x="465.2" y="133.5" width="16" height="3.4" rx="1.7" fill="#111" transform="rotate(-32.63440980347349 473.2 135.2)"/>
<rect x="449.3" y="146.0" width="9" height="3" rx="1.5" fill="#111" transform="rotate(-32.63440980347349 453.8 147.5)"/>
<rect x="438.4" y="152.5" width="11" height="3.2" rx="1.6" fill="#111" transform="rotate(-32.63440980347349 443.9 154.1)"/>
<ellipse cx="477" cy="149.2" rx="6.3" ry="3.4" fill="#fff" stroke="#111" stroke-width="1.8"/>
<ellipse cx="477" cy="149.2" rx="2.5" ry="1.4" fill="#666"/>
<ellipse cx="517.7" cy="134.8" rx="6.3" ry="3.4" fill="#fff" stroke="#111" stroke-width="1.8"/>
<ellipse cx="517.7" cy="134.8" rx="2.5" ry="1.4" fill="#666"/>
<ellipse cx="598.4" cy="146.6" rx="6.0" ry="3.1" fill="#fff" stroke="#111" stroke-width="1.8"/>
<ellipse cx="598.4" cy="146.6" rx="2.4" ry="1.2" fill="#666"/>
<path d="M476.2,154.5 L478.0,158.5 L478.0,180 L480.5,181 L480.5,182 L471.9,182 L471.9,181 L474.4,180 L474.4,158.5 Z" fill="#fff" stroke="#8a8a8a" stroke-width="0.9"/>
<path d="M474.4,159.5 L478.0,160.5 M474.4,161.5 L478.0,162.5 M474.4,163.5 L478.0,164.5 M474.4,165.5 L478.0,166.5 M474.4,167.5 L478.0,168.5 M474.4,169.5 L478.0,170.5 M474.4,171.5 L478.0,172.5 M474.4,173.5 L478.0,174.5 M474.4,175.5 L478.0,176.5 M474.4,177.5 L478.0,178.5 " stroke="#8a8a8a" stroke-width="0.6" fill="none"/>
<path d="M518.2,141 L520.0,145 L520.0,166.6 L523.4000000000001,167.6 L523.4000000000001,168.6 L513.0,168.6 L513.0,167.6 L516.4000000000001,166.6 L516.4000000000001,145 Z" fill="#fff" stroke="#8a8a8a" stroke-width="0.9"/>
<path d="M516.4000000000001,146.0 L520.0,147.0 M516.4000000000001,148.0 L520.0,149.0 M516.4000000000001,150.0 L520.0,151.0 M516.4000000000001,152.0 L520.0,153.0 M516.4000000000001,154.0 L520.0,155.0 M516.4000000000001,156.0 L520.0,157.0 M516.4000000000001,158.0 L520.0,159.0 M516.4000000000001,160.0 L520.0,161.0 M516.4000000000001,162.0 L520.0,163.0 M516.4000000000001,164.0 L520.0,165.0 " stroke="#8a8a8a" stroke-width="0.6" fill="none"/>
<path d="M598.1,153 L599.9,157 L599.9,177.8 L602.6,178.8 L602.6,179.8 L593.6,179.8 L593.6,178.8 L596.3000000000001,177.8 L596.3000000000001,157 Z" fill="#fff" stroke="#8a8a8a" stroke-width="0.9"/>
<path d="M596.3000000000001,158.0 L599.9,159.0 M596.3000000000001,160.0 L599.9,161.0 M596.3000000000001,162.0 L599.9,163.0 M596.3000000000001,164.0 L599.9,165.0 M596.3000000000001,166.0 L599.9,167.0 M596.3000000000001,168.0 L599.9,169.0 M596.3000000000001,170.0 L599.9,171.0 M596.3000000000001,172.0 L599.9,173.0 M596.3000000000001,174.0 L599.9,175.0 M596.3000000000001,176.0 L599.9,177.0 " stroke="#8a8a8a" stroke-width="0.6" fill="none"/>
<line x1="623.6" y1="146.8" x2="654" y2="152.6" stroke="#e23a3a" stroke-width="1.1"/>
<ellipse cx="639.6" cy="150.5" rx="3.8" ry="6.4" fill="#fff" stroke="#111" stroke-width="1.6" transform="rotate(8 639.6 150.5)"/>
<ellipse cx="640" cy="151" rx="1.8" ry="2.8" fill="#fff" stroke="#222" stroke-width="1.1"/>
<g transform="rotate(14 658 154)"><rect x="651.5" y="151.3" width="11" height="5.6" rx="1" fill="#111"/><path d="M662,147.5 Q666.5,148 666.5,154 Q666.5,160.5 662,161 Z" fill="#111"/></g>
<path d="M718.1,167.5 L678.7,158.5 L679.3,155.8 L669.5,158.2 L677.3,164.6 L677.9,161.9 L717.3,170.9 Z" fill="#fff" stroke="#222" stroke-width="1.0" stroke-linejoin="miter"/>
<path d="M706.3,160 C707.5,169 704,177.5 697.5,177.5 C690,177.5 689,166 695.5,155" fill="none" stroke="#444" stroke-width="2.6" stroke-linecap="round"/>
<path d="M706.3,160 C707.5,169 704,177.5 697.5,177.5 C690,177.5 689,166 695.5,155" fill="none" stroke="#fff" stroke-width="0.9"/>
<path d="M690.8,155 L697.6,148.6 L696.6,158.2 Z" fill="#fff" stroke="#333" stroke-width="0.9"/>
<circle cx="738.5" cy="175.3" r="16.0" fill="#fff" stroke="#111" stroke-width="1.6"/>
<g transform="translate(738.5,175.3) scale(0.93,1)"><text x="0" y="9.4" text-anchor="middle" font-family="Liberation Serif, serif" font-weight="bold" font-size="28" fill="#000">04</text></g>
<circle cx="529" cy="212.5" r="16.4" fill="#fff" stroke="#111" stroke-width="1.6"/>
<g transform="translate(529,212.5) scale(0.93,1)"><text x="0" y="9.4" text-anchor="middle" font-family="Liberation Serif, serif" font-weight="bold" font-size="28" fill="#000">02</text></g>
<circle cx="622.2" cy="244.4" r="16.2" fill="#fff" stroke="#111" stroke-width="1.6"/>
<g transform="translate(622.2,244.4) scale(0.93,1)"><text x="0" y="9.4" text-anchor="middle" font-family="Liberation Serif, serif" font-weight="bold" font-size="28" fill="#000">01</text></g>
<circle cx="271.5" cy="184" r="16.3" fill="#fff" stroke="#111" stroke-width="1.6"/>
<g transform="translate(271.5,184) scale(0.93,1)"><text x="0" y="9.4" text-anchor="middle" font-family="Liberation Serif, serif" font-weight="bold" font-size="28" fill="#000">03</text></g>
<path d="M499.4,213.8 L499.4,176.4 L502.1,176.4 L497.8,167.4 L493.6,176.4 L496.2,176.4 L496.2,213.8 Z" fill="#fff" stroke="#333" stroke-width="1.0" stroke-linejoin="miter"/>
<path d="M504.5,202.3 C493,204 483,200.5 484,194.5 C485,188.5 495,186.5 506,188.3" fill="none" stroke="#444" stroke-width="2.5"/>
<path d="M504.5,202.3 C493,204 483,200.5 484,194.5 C485,188.5 495,186.5 506,188.3" fill="none" stroke="#fff" stroke-width="0.8"/>
<path d="M505.5,184.6 L513,189.6 L505.5,192 Z" fill="#fff" stroke="#444" stroke-width="0.9"/>
<rect x="496.2" y="188" width="3.2" height="13" fill="#fff"/>
<line x1="496.2" y1="186" x2="496.2" y2="204" stroke="#333" stroke-width="1"/><line x1="499.4" y1="186" x2="499.4" y2="204" stroke="#333" stroke-width="1"/>
<path d="M580,234 C588,228 602,230 601,238 C600,245 590,246.5 578,244.8" fill="none" stroke="#555" stroke-width="2.4"/>
<path d="M580,234 C588,228 602,230 601,238 C600,245 590,246.5 578,244.8" fill="none" stroke="#fff" stroke-width="0.8"/>
<path d="M579.5,241 L573,244.4 L579.5,248 Z" fill="#fff" stroke="#444" stroke-width="0.9"/>
<path d="M585.8,219.4 L585.8,258.8 L583.0,258.8 L587.3,267.8 L591.5,258.8 L588.8,258.8 L588.8,219.4 Z" fill="#fff" stroke="#333" stroke-width="1.0" stroke-linejoin="miter"/>
<rect x="551.2" y="242.3" width="19.4" height="4.5" fill="#fff" stroke="#e050e0" stroke-width="1.3"/>
<line x1="556" y1="242.3" x2="556" y2="246.8" stroke="#e050e0" stroke-width="0.9"/><line x1="566" y1="242.3" x2="566" y2="246.8" stroke="#e050e0" stroke-width="0.9"/>
<ellipse cx="561.2" cy="256" rx="10" ry="3.2" fill="#fff" stroke="#111" stroke-width="2.2"/>
<ellipse cx="561.2" cy="256.2" rx="5" ry="1.1" fill="#fff" stroke="#444" stroke-width="0.8"/>
<g stroke="#111" fill="#fff" stroke-width="1.3">
<path d="M296.8,142 Q296.8,138.3 300.5,138.3 L308.4,138.3 Q312.1,138.3 312.1,142 L312.1,166.5 Q312,170 309.8,172.6 L309.8,177 L299,177 L299,172.6 Q296.8,170 296.8,166.5 Z"/>
<rect x="296.4" y="177.5" width="15.8" height="5.2" rx="2.6"/>
<line x1="301.8" y1="177.8" x2="301.8" y2="182.4" stroke-width="0.8"/><line x1="306.8" y1="177.8" x2="306.8" y2="182.4" stroke-width="0.8"/>
<path d="M302.2,182.8 L302.2,229 L304.3,234.6 L306.2,229 L306.2,182.8" />
</g>
<line x1="304.2" y1="185" x2="304.2" y2="228" stroke="#888" stroke-width="0.6"/><path d="M303.2,226 L304.3,234 L305.3,226 Z" fill="#222"/>
<path d="M301.5,218.4 C290,217.3 287.5,213 291,210 C296,206 312,206 316.5,210 C319.5,213 316,217 308.5,218.3" fill="none" stroke="#111" stroke-width="2"/>
<path d="M295.5,216 L302.8,219.1 L295.6,220 Z" fill="#111"/>
<path d="M225.2,240.5 C243,240 246,256 255,265.5 C265,277 282,285 296,277.5" fill="none" stroke="#111" stroke-width="1.2"/>
<path d="M225.2,244.6 C241,244 244,259 253,268.5 C263,281 281,288 297,280.5" fill="none" stroke="#111" stroke-width="1.2"/>
<path d="M296.5,278.5 C297.5,273 298.3,267 298.8,262.5" fill="none" stroke="#111" stroke-width="1"/>
<path d="M297,279 C305,276 311,270 313.9,262.5" fill="none" stroke="#111" stroke-width="1"/>
<path d="M283.6,266.1 L321.8,266.1 L342.4,246.6 L304.2,246.6 Z" fill="#fff" stroke="#111" stroke-width="1.5"/>
<path d="M296.6,253.1 L319.7,253.1 L333.4,243.2 L310.3,243.2 Z" fill="#fff" stroke="#111" stroke-width="1.2"/>
<path d="M319.7,253.1 L333.4,243.2 L333.4,252.4 L319.7,262.5 Z" fill="#fff" stroke="#111" stroke-width="1.2"/>
<rect x="296.6" y="253.1" width="23.1" height="9.4" fill="#fff" stroke="#111" stroke-width="1.5"/>
<line x1="304.3" y1="253.1" x2="304.3" y2="262.5" stroke="#111" stroke-width="1.1"/>
<line x1="312" y1="253.1" x2="312" y2="262.5" stroke="#111" stroke-width="1.1"/>
<rect x="298.6" y="255.6" width="3.4" height="5.2" fill="#fff" stroke="#222" stroke-width="0.8"/>
<rect x="306.3" y="255.6" width="3.4" height="5.2" fill="#fff" stroke="#222" stroke-width="0.8"/>
<rect x="314" y="255.6" width="3.4" height="5.2" fill="#fff" stroke="#222" stroke-width="0.8"/>
<rect x="302.2" y="254.5" width="1.8" height="7" fill="#555"/>
<rect x="317.6" y="254.5" width="1.8" height="7" fill="#555"/>
<rect x="307.4" y="237.3" width="5.2" height="6.8" rx="0.8" fill="#fff" stroke="#111" stroke-width="1.2"/>
<rect x="315.4" y="237.3" width="5.2" height="6.6" rx="0.8" fill="#fff" stroke="#111" stroke-width="1.2"/>
<rect x="324.0" y="237.6" width="5.2" height="7.8" rx="0.8" fill="#fff" stroke="#111" stroke-width="1.2"/>
<rect x="301.6" y="242.3" width="5.2" height="7.4" rx="0.8" fill="#fff" stroke="#111" stroke-width="1.2"/>
<rect x="309.6" y="242.6" width="5.2" height="7.2" rx="0.8" fill="#fff" stroke="#111" stroke-width="1.2"/>
<rect x="317.5" y="242.9" width="5.2" height="6.9" rx="0.8" fill="#fff" stroke="#111" stroke-width="1.2"/>
<path d="M391.2,299.4 L391.2,274.4 L487.4,274.4 L491.7,279.4 L491.7,283 L482.5,283 Q479.8,283 479.8,285.7 Q479.8,288.4 482.5,288.4 L505.6,288.4 Q508.3,288.4 508.3,285.7 Q508.3,283 505.6,283 L497.2,283 L497.2,279.4 L501.5,274.4 L598.2,274.4 L598.2,299.4" fill="#fff" stroke="#333" stroke-width="1.4"/>
<rect x="351.3" y="299.5" width="286.6" height="10" fill="#fff" stroke="#111" stroke-width="1.6"/>
<path d="M330.5,237.3 C340,234 352,231.5 364,234.3 C375,237 383,249 390,259.5 C396,269 402,278 407.8,284.7" fill="none" stroke="#111" stroke-width="1.2"/>
<path d="M333.4,241.5 C342,238.5 352,236 363,238.5 C373,241 380,252 387,263 C393,272 403,281 410.7,284.7" fill="none" stroke="#111" stroke-width="1.2"/>
<rect x="426.4" y="310.3" width="10.200000000000045" height="33.69999999999999" fill="#fff" stroke="#222" stroke-width="1.3"/>
<rect x="424.79999999999995" y="310.3" width="13.400000000000045" height="2.6" rx="1.2" fill="#fff" stroke="#222" stroke-width="1.1"/>
<rect x="501.2" y="310.3" width="10.400000000000034" height="53.69999999999999" fill="#fff" stroke="#222" stroke-width="1.3"/>
<rect x="499.59999999999997" y="310.3" width="13.600000000000033" height="2.6" rx="1.2" fill="#fff" stroke="#222" stroke-width="1.1"/>
<rect x="178.9" y="344.9" width="265.5" height="8.5" fill="#fff" stroke="#111" stroke-width="1.4"/>
<path d="M410.7,341.5 L410.7,360.6 Q410.7,363.1 413.2,363.1 L449.8,363.1 Q452.3,363.1 452.3,360.6 L452.3,341.5" fill="none" stroke="#111" stroke-width="1.3"/>
<path d="M414.3,341.5 L414.3,355.1 L448.7,355.1 L448.7,341.5" fill="none" stroke="#111" stroke-width="1.3"/>
<path d="M410.7,345.0 L410.7,341.5 L414.3,341.5 L414.3,345.0" fill="none" stroke="#2a9a2a" stroke-width="1.2"/>
<path d="M448.7,345.0 L448.7,341.5 L452.3,341.5 L452.3,345.0" fill="none" stroke="#2a9a2a" stroke-width="1.2"/>
<rect x="424.3" y="342.8" width="14.4" height="10.199999999999989" rx="2" fill="#fff" stroke="#111" stroke-width="1.5"/>
<rect x="424.3" y="342.8" width="14.4" height="3" rx="1.5" fill="#111"/>
<ellipse cx="431.5" cy="348.9" rx="3.6" ry="2.6" fill="#333" stroke="#111" stroke-width="1.2"/>
<ellipse cx="431.5" cy="348.09999999999997" rx="1.8" ry="0.8" fill="#ccc"/>
<rect x="258.2" y="365.5" width="266.59999999999997" height="7.899999999999977" fill="#fff" stroke="#111" stroke-width="1.4"/>
<path d="M486.1,362 L486.1,380.5 Q486.1,383 488.6,383 L525.6,383 Q528.1,383 528.1,380.5 L528.1,362" fill="none" stroke="#111" stroke-width="1.3"/>
<path d="M489.70000000000005,362 L489.70000000000005,375 L524.5,375 L524.5,362" fill="none" stroke="#111" stroke-width="1.3"/>
<path d="M486.1,365.5 L486.1,362 L489.70000000000005,362 L489.70000000000005,365.5" fill="none" stroke="#2a9a2a" stroke-width="1.2"/>
<path d="M524.5,365.5 L524.5,362 L528.1,362 L528.1,365.5" fill="none" stroke="#2a9a2a" stroke-width="1.2"/>
<rect x="499.2" y="362.8" width="14.4" height="10.699999999999989" rx="2" fill="#fff" stroke="#111" stroke-width="1.5"/>
<rect x="499.2" y="362.8" width="14.4" height="3" rx="1.5" fill="#111"/>
<ellipse cx="506.4" cy="369.15" rx="3.6" ry="2.6" fill="#333" stroke="#111" stroke-width="1.2"/>
<ellipse cx="506.4" cy="368.34999999999997" rx="1.8" ry="0.8" fill="#ccc"/>
<rect x="577.3" y="334.4" width="9.8" height="11.5" rx="1.5" fill="#fff" stroke="#111" stroke-width="1.3"/>
<rect x="574.6" y="344.7" width="15.6" height="2.6" rx="1.3" fill="#fff" stroke="#111" stroke-width="1.2"/>
<rect x="577.2" y="347.3" width="10.3" height="30.5" fill="#fff" stroke="#111" stroke-width="1.3"/>
<rect x="565.3" y="379.7" width="264.20000000000005" height="8.699999999999989" fill="#fff" stroke="#111" stroke-width="1.4"/>
<path d="M561.5,376.5 L561.5,395.9 Q561.5,398.4 564.0,398.4 L600.3,398.4 Q602.8,398.4 602.8,395.9 L602.8,376.5" fill="none" stroke="#111" stroke-width="1.3"/>
<path d="M565.1,376.5 L565.1,389.3 L599.1999999999999,389.3 L599.1999999999999,376.5" fill="none" stroke="#111" stroke-width="1.3"/>
<path d="M561.5,380.0 L561.5,376.5 L565.1,376.5 L565.1,380.0" fill="none" stroke="#2a9a2a" stroke-width="1.2"/>
<path d="M599.1999999999999,380.0 L599.1999999999999,376.5 L602.8,376.5 L602.8,380.0" fill="none" stroke="#2a9a2a" stroke-width="1.2"/>
<rect x="574.4000000000001" y="377.6" width="15.6" height="11.899999999999977" rx="2" fill="#fff" stroke="#111" stroke-width="1.5"/>
<rect x="574.4000000000001" y="377.6" width="15.6" height="3" rx="1.5" fill="#111"/>
<ellipse cx="582.2" cy="384.55" rx="3.6" ry="2.6" fill="#333" stroke="#111" stroke-width="1.2"/>
<ellipse cx="582.2" cy="383.75" rx="1.8" ry="0.8" fill="#ccc"/>
</svg>
</body></html>
